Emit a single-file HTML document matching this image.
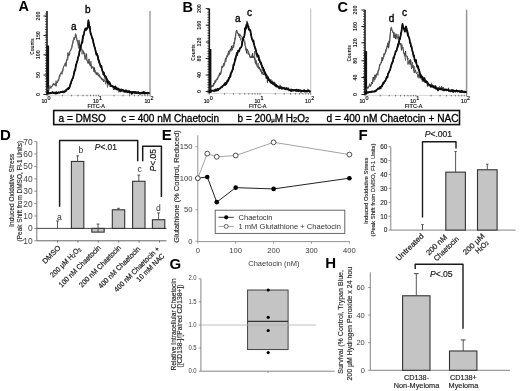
<!DOCTYPE html>
<html><head><meta charset="utf-8"><style>
html,body{margin:0;padding:0;background:#fff;overflow:hidden;width:520px;height:391px;}
svg{display:block;will-change:transform;}
text{font-family:"Liberation Sans", sans-serif;}
</style></head><body>
<svg width="520" height="391" viewBox="0 0 520 391">
<rect width="520" height="391" fill="#fff"/>
<line x1="47.00" y1="11.00" x2="47.00" y2="95.00" stroke="#1a1a1a" stroke-width="1.6"/>
<line x1="45.10" y1="94.50" x2="47.00" y2="94.50" stroke="#333" stroke-width="0.9"/>
<line x1="45.10" y1="91.90" x2="47.00" y2="91.90" stroke="#333" stroke-width="0.9"/>
<line x1="45.10" y1="89.30" x2="47.00" y2="89.30" stroke="#333" stroke-width="0.9"/>
<line x1="45.10" y1="86.70" x2="47.00" y2="86.70" stroke="#333" stroke-width="0.9"/>
<line x1="45.10" y1="84.10" x2="47.00" y2="84.10" stroke="#333" stroke-width="0.9"/>
<line x1="45.10" y1="81.50" x2="47.00" y2="81.50" stroke="#333" stroke-width="0.9"/>
<line x1="45.10" y1="78.90" x2="47.00" y2="78.90" stroke="#333" stroke-width="0.9"/>
<line x1="45.10" y1="76.30" x2="47.00" y2="76.30" stroke="#333" stroke-width="0.9"/>
<line x1="45.10" y1="73.70" x2="47.00" y2="73.70" stroke="#333" stroke-width="0.9"/>
<line x1="45.10" y1="71.10" x2="47.00" y2="71.10" stroke="#333" stroke-width="0.9"/>
<line x1="45.10" y1="68.50" x2="47.00" y2="68.50" stroke="#333" stroke-width="0.9"/>
<line x1="45.10" y1="65.90" x2="47.00" y2="65.90" stroke="#333" stroke-width="0.9"/>
<line x1="45.10" y1="63.30" x2="47.00" y2="63.30" stroke="#333" stroke-width="0.9"/>
<line x1="45.10" y1="60.70" x2="47.00" y2="60.70" stroke="#333" stroke-width="0.9"/>
<line x1="45.10" y1="58.10" x2="47.00" y2="58.10" stroke="#333" stroke-width="0.9"/>
<line x1="45.10" y1="55.50" x2="47.00" y2="55.50" stroke="#333" stroke-width="0.9"/>
<line x1="45.10" y1="52.90" x2="47.00" y2="52.90" stroke="#333" stroke-width="0.9"/>
<line x1="45.10" y1="50.30" x2="47.00" y2="50.30" stroke="#333" stroke-width="0.9"/>
<line x1="45.10" y1="47.70" x2="47.00" y2="47.70" stroke="#333" stroke-width="0.9"/>
<line x1="45.10" y1="45.10" x2="47.00" y2="45.10" stroke="#333" stroke-width="0.9"/>
<line x1="45.10" y1="42.50" x2="47.00" y2="42.50" stroke="#333" stroke-width="0.9"/>
<line x1="45.10" y1="39.90" x2="47.00" y2="39.90" stroke="#333" stroke-width="0.9"/>
<line x1="45.10" y1="37.30" x2="47.00" y2="37.30" stroke="#333" stroke-width="0.9"/>
<line x1="45.10" y1="34.70" x2="47.00" y2="34.70" stroke="#333" stroke-width="0.9"/>
<line x1="45.10" y1="32.10" x2="47.00" y2="32.10" stroke="#333" stroke-width="0.9"/>
<line x1="45.10" y1="29.50" x2="47.00" y2="29.50" stroke="#333" stroke-width="0.9"/>
<line x1="45.10" y1="26.90" x2="47.00" y2="26.90" stroke="#333" stroke-width="0.9"/>
<line x1="45.10" y1="24.30" x2="47.00" y2="24.30" stroke="#333" stroke-width="0.9"/>
<line x1="45.10" y1="21.70" x2="47.00" y2="21.70" stroke="#333" stroke-width="0.9"/>
<line x1="45.10" y1="19.10" x2="47.00" y2="19.10" stroke="#333" stroke-width="0.9"/>
<line x1="45.10" y1="16.50" x2="47.00" y2="16.50" stroke="#333" stroke-width="0.9"/>
<line x1="45.10" y1="13.90" x2="47.00" y2="13.90" stroke="#333" stroke-width="0.9"/>
<line x1="43.40" y1="94.50" x2="47.00" y2="94.50" stroke="#222" stroke-width="1.0"/>
<line x1="43.40" y1="75.00" x2="47.00" y2="75.00" stroke="#222" stroke-width="1.0"/>
<line x1="43.40" y1="54.80" x2="47.00" y2="54.80" stroke="#222" stroke-width="1.0"/>
<line x1="43.40" y1="35.60" x2="47.00" y2="35.60" stroke="#222" stroke-width="1.0"/>
<line x1="43.40" y1="16.00" x2="47.00" y2="16.00" stroke="#222" stroke-width="1.0"/>
<rect x="46.50" y="45.50" width="2.60" height="49.00" fill="#111" stroke="none" stroke-width="1"/>
<line x1="150.00" y1="11.00" x2="150.00" y2="95.00" stroke="#a8a8a8" stroke-width="1.6"/>
<line x1="47.00" y1="95.30" x2="150.00" y2="95.30" stroke="#bbb" stroke-width="0.6"/>
<line x1="47.00" y1="94.80" x2="47.00" y2="96.30" stroke="#555" stroke-width="0.8"/>
<line x1="62.50" y1="94.80" x2="62.50" y2="96.30" stroke="#555" stroke-width="0.8"/>
<line x1="71.57" y1="94.80" x2="71.57" y2="96.30" stroke="#555" stroke-width="0.8"/>
<line x1="78.01" y1="94.80" x2="78.01" y2="96.30" stroke="#555" stroke-width="0.8"/>
<line x1="83.00" y1="94.80" x2="83.00" y2="96.30" stroke="#555" stroke-width="0.8"/>
<line x1="87.07" y1="94.80" x2="87.07" y2="96.30" stroke="#555" stroke-width="0.8"/>
<line x1="90.52" y1="94.80" x2="90.52" y2="96.30" stroke="#555" stroke-width="0.8"/>
<line x1="93.51" y1="94.80" x2="93.51" y2="96.30" stroke="#555" stroke-width="0.8"/>
<line x1="96.14" y1="94.80" x2="96.14" y2="96.30" stroke="#555" stroke-width="0.8"/>
<line x1="98.50" y1="94.80" x2="98.50" y2="96.30" stroke="#555" stroke-width="0.8"/>
<line x1="114.00" y1="94.80" x2="114.00" y2="96.30" stroke="#555" stroke-width="0.8"/>
<line x1="123.07" y1="94.80" x2="123.07" y2="96.30" stroke="#555" stroke-width="0.8"/>
<line x1="129.51" y1="94.80" x2="129.51" y2="96.30" stroke="#555" stroke-width="0.8"/>
<line x1="134.50" y1="94.80" x2="134.50" y2="96.30" stroke="#555" stroke-width="0.8"/>
<line x1="138.57" y1="94.80" x2="138.57" y2="96.30" stroke="#555" stroke-width="0.8"/>
<line x1="142.02" y1="94.80" x2="142.02" y2="96.30" stroke="#555" stroke-width="0.8"/>
<line x1="145.01" y1="94.80" x2="145.01" y2="96.30" stroke="#555" stroke-width="0.8"/>
<line x1="147.64" y1="94.80" x2="147.64" y2="96.30" stroke="#555" stroke-width="0.8"/>
<line x1="150.00" y1="94.80" x2="150.00" y2="96.50" stroke="#555" stroke-width="0.8"/>
<text x="39.90" y="94.50" font-size="5.3" fill="#1a1a1a" text-anchor="middle" transform="rotate(-90 39.90 94.50)" font-weight="bold">0</text>
<text x="39.90" y="75.00" font-size="5.3" fill="#1a1a1a" text-anchor="middle" transform="rotate(-90 39.90 75.00)" font-weight="bold">50</text>
<text x="39.90" y="54.80" font-size="5.3" fill="#1a1a1a" text-anchor="middle" transform="rotate(-90 39.90 54.80)" font-weight="bold">100</text>
<text x="39.90" y="35.60" font-size="5.3" fill="#1a1a1a" text-anchor="middle" transform="rotate(-90 39.90 35.60)" font-weight="bold">150</text>
<text x="39.90" y="16.00" font-size="5.3" fill="#1a1a1a" text-anchor="middle" transform="rotate(-90 39.90 16.00)" font-weight="bold">200</text>
<text x="34.47" y="46.60" font-size="5.2" fill="#222" text-anchor="middle" transform="rotate(-90 34.47 46.60)" font-weight="bold" textLength="16.4" lengthAdjust="spacingAndGlyphs">Counts</text>
<text x="41.40" y="103.40" font-size="6.2" fill="#111" stroke="#111" stroke-width="0.2" textLength="5.8" lengthAdjust="spacingAndGlyphs">10</text>
<text x="49.00" y="100.30" font-size="5.4" fill="#111" stroke="#111" stroke-width="0.2" text-anchor="middle">0</text>
<text x="92.90" y="103.40" font-size="6.2" fill="#111" stroke="#111" stroke-width="0.2" textLength="5.8" lengthAdjust="spacingAndGlyphs">10</text>
<text x="100.50" y="100.30" font-size="5.4" fill="#111" stroke="#111" stroke-width="0.2" text-anchor="middle">1</text>
<text x="144.40" y="103.40" font-size="6.2" fill="#111" stroke="#111" stroke-width="0.2" textLength="5.8" lengthAdjust="spacingAndGlyphs">10</text>
<text x="152.00" y="100.30" font-size="5.4" fill="#111" stroke="#111" stroke-width="0.2" text-anchor="middle">2</text>
<text x="87.50" y="108.00" font-size="4.8" fill="#111" stroke="#111" stroke-width="0.15" textLength="17.5" lengthAdjust="spacingAndGlyphs">FITC-A</text>
<polyline points="47.50,89.84 48.00,88.34 48.50,91.35 49.00,88.79 49.50,87.76 50.00,87.47 50.50,87.92 51.00,86.31 51.50,86.39 52.00,86.37 52.50,85.36 53.00,83.76 53.50,83.32 54.00,85.11 54.50,84.95 55.00,83.45 55.50,83.99 56.00,86.37 56.50,84.21 57.00,81.74 57.50,82.50 58.00,81.32 58.50,79.17 59.00,78.33 59.50,75.11 60.00,74.95 60.50,73.44 61.00,72.61 61.50,73.68 62.00,74.24 62.50,72.42 63.00,68.48 63.50,67.26 64.00,65.99 64.50,65.49 65.00,64.30 65.50,62.84 66.00,66.47 66.50,60.38 67.00,60.10 67.50,56.84 68.00,52.57 68.50,55.36 69.00,54.54 69.50,55.30 70.00,51.45 70.50,50.99 71.00,49.77 71.50,48.82 72.00,47.28 72.50,43.61 73.00,40.58 73.50,39.84 74.00,37.76 74.50,37.05 75.00,37.72 75.50,36.37 76.00,34.67 76.50,37.19 77.00,39.64 77.50,41.33 78.00,43.64 78.50,45.72 79.00,40.14 79.50,45.17 80.00,45.70 80.50,49.28 81.00,46.14 81.50,49.50 82.00,49.37 82.50,50.01 83.00,50.64 83.50,53.25 84.00,52.56 84.50,56.07 85.00,59.53 85.50,58.73 86.00,56.07 86.50,53.69 87.00,59.94 87.50,61.53 88.00,63.45 88.50,62.15 89.00,58.87 89.50,64.21 90.00,65.54 90.50,66.13 91.00,64.48 91.50,68.32 92.00,68.19 92.50,67.74 93.00,66.72 93.50,67.71 94.00,71.79 94.50,67.51 95.00,72.75 95.50,71.97 96.00,72.57 96.50,74.10 97.00,75.12 97.50,72.91 98.00,72.57 98.50,76.20 99.00,75.12 99.50,76.44 100.00,77.66 100.50,76.69 101.00,77.55 101.50,79.25 102.00,78.29 102.50,80.13 103.00,79.04 103.50,81.85 104.00,80.24 104.50,80.99 105.00,80.77 105.50,81.98 106.00,82.38 106.50,80.99 107.00,81.24 107.50,83.55 108.00,82.79 108.50,84.94 109.00,83.98 109.50,83.49 110.00,84.99 110.50,83.48 111.00,85.97 111.50,86.59 112.00,86.11 112.50,86.86 113.00,86.60 113.50,89.96 114.00,87.81 114.50,88.53 115.00,89.12 115.50,89.85 116.00,87.62 116.50,88.51 117.00,89.89 117.50,90.11 118.00,90.60 118.50,90.30 119.00,92.25 119.50,90.88 120.00,90.48 120.50,92.17 121.00,91.32 121.50,89.80 122.00,91.11 122.50,89.74 123.00,91.63 123.50,91.90 124.00,92.28 124.50,91.48 125.00,91.52 125.50,92.74 126.00,92.21 126.50,91.29 127.00,92.37 127.50,90.68 128.00,91.58 128.50,90.52 129.00,92.13 129.50,93.01 130.00,92.08 130.50,91.66 131.00,92.74 131.50,91.27 132.00,92.52 132.50,91.80 133.00,92.84 133.50,91.53 134.00,92.33 134.50,92.76 135.00,93.09 135.50,92.70 136.00,92.48 136.50,92.85 137.00,92.76 137.50,92.70 138.00,92.97 138.50,91.52 139.00,92.90 139.50,93.31 140.00,94.83 140.50,93.70 141.00,92.97 141.50,93.88 142.00,93.60 142.50,92.95 143.00,91.89 143.50,92.79 144.00,93.00 144.50,94.41 145.00,93.98 145.50,94.06 146.00,92.83 146.50,93.31 147.00,92.87 147.50,94.07 148.00,94.26 148.50,92.83 149.00,93.91 149.40,93.60" fill="none" stroke="#2a2a2a" stroke-width="0.85" stroke-linejoin="round"/>
<polyline points="47.50,90.01 48.00,87.46 48.50,89.93 49.00,88.76 49.50,86.01 50.00,85.49 50.50,86.37 51.00,88.58 51.50,87.31 52.00,86.79 52.50,86.12 53.00,83.85 53.50,84.39 54.00,85.36 54.50,84.58 55.00,84.12 55.50,83.96 56.00,80.66 56.50,83.59 57.00,82.71 57.50,81.58 58.00,79.84 58.50,80.77 59.00,80.08 59.50,75.15 60.00,76.55 60.50,74.67 61.00,74.39 61.50,71.67 62.00,70.70 62.50,71.56 63.00,70.57 63.50,67.11 64.00,65.26 64.50,65.23 65.00,63.98 65.50,62.56 66.00,62.42 66.50,60.56 67.00,59.26 67.50,60.38 68.00,58.89 68.50,54.94 69.00,55.29 69.50,51.44 70.00,50.52 70.50,50.54 71.00,48.55 71.50,47.81 72.00,44.83 72.50,44.23 73.00,43.46 73.50,41.39 74.00,37.55 74.50,39.79 75.00,36.85 75.50,33.48 76.00,37.17 76.50,38.96 77.00,41.35 77.50,40.47 78.00,42.90 78.50,48.30 79.00,45.25 79.50,43.39 80.00,47.47 80.50,46.16 81.00,47.78 81.50,45.99 82.00,54.32 82.50,50.36 83.00,50.71 83.50,51.12 84.00,54.34 84.50,53.12 85.00,53.15 85.50,56.88 86.00,57.35 86.50,60.07 87.00,59.94 87.50,62.11 88.00,62.78 88.50,62.38 89.00,63.82 89.50,62.47 90.00,61.50 90.50,65.39 91.00,61.33 91.50,68.31 92.00,66.11 92.50,67.71 93.00,67.29 93.50,69.85 94.00,69.29 94.50,71.94 95.00,70.85 95.50,70.40 96.00,74.33 96.50,72.33 97.00,73.14 97.50,74.60 98.00,74.70 98.50,75.78 99.00,76.04 99.50,74.45 100.00,76.90 100.50,77.32 101.00,78.06 101.50,79.54 102.00,79.33 102.50,79.64 103.00,80.73 103.50,81.16 104.00,81.36 104.50,75.62 105.00,78.34 105.50,84.22 106.00,82.39 106.50,80.36 107.00,83.39 107.50,87.47 108.00,83.25 108.50,81.83 109.00,84.60 109.50,86.31 110.00,86.57 110.50,86.05 111.00,85.96 111.50,85.19 112.00,86.11 112.50,85.57 113.00,87.12 113.50,86.67 114.00,87.97 114.50,89.95 115.00,88.37 115.50,88.70 116.00,88.76 116.50,89.63 117.00,89.19 117.50,89.09 118.00,88.57 118.50,89.05 119.00,90.45 119.50,90.45 120.00,92.00 120.50,90.64 121.00,89.78 121.50,88.60 122.00,91.62 122.50,90.18 123.00,91.49 123.50,90.19 124.00,90.33 124.50,92.88 125.00,91.29 125.50,90.32 126.00,91.90 126.50,91.85 127.00,90.85 127.50,91.82 128.00,92.44 128.50,91.77 129.00,92.33 129.50,94.43 130.00,92.21 130.50,92.55 131.00,93.45 131.50,92.99 132.00,92.89 132.50,92.69 133.00,91.06 133.50,91.48 134.00,92.33 134.50,94.00 135.00,91.43 135.50,92.97 136.00,93.05 136.50,93.85 137.00,92.54 137.50,94.08 138.00,91.16 138.50,92.77 139.00,92.69 139.50,92.65 140.00,93.27 140.50,92.90 141.00,93.16 141.50,93.03 142.00,93.19 142.50,92.85 143.00,92.80 143.50,91.75 144.00,93.39 144.50,91.59 145.00,93.40 145.50,93.97 146.00,93.77 146.50,93.67 147.00,93.78 147.50,93.94 148.00,93.89 148.50,93.63 149.00,93.82 149.40,93.60" fill="none" stroke="#4a4a4a" stroke-width="0.7" stroke-linejoin="round"/>
<polyline points="47.40,93.11 47.90,93.18 48.40,93.46 48.90,92.90 49.40,93.14 49.90,92.88 50.40,93.13 50.90,92.86 51.40,92.72 51.90,92.93 52.40,92.07 52.90,92.32 53.40,92.65 53.90,93.05 54.40,92.69 54.90,92.61 55.40,92.52 55.90,93.63 56.40,92.25 56.90,92.69 57.40,93.29 57.90,92.88 58.40,92.32 58.90,92.23 59.40,92.86 59.90,92.61 60.40,92.22 60.90,92.06 61.40,92.11 61.90,92.02 62.40,92.06 62.90,91.29 63.40,91.83 63.90,92.23 64.40,91.41 64.90,91.58 65.40,90.76 65.90,91.23 66.40,89.78 66.90,89.39 67.40,88.74 67.90,89.04 68.40,87.86 68.90,88.40 69.40,88.07 69.90,86.23 70.40,83.96 70.90,83.19 71.40,80.98 71.90,80.36 72.40,78.87 72.90,78.29 73.40,76.33 73.90,74.21 74.40,71.78 74.90,70.92 75.40,69.33 75.90,64.78 76.40,64.06 76.90,61.51 77.40,60.99 77.90,58.40 78.40,56.07 78.90,56.01 79.40,51.41 79.90,50.29 80.40,45.92 80.90,45.49 81.40,44.27 81.90,42.01 82.40,42.65 82.90,36.09 83.40,35.52 83.90,34.02 84.40,31.55 84.90,29.86 85.40,28.44 85.90,29.12 86.40,28.48 86.90,28.12 87.40,28.51 87.90,26.88 88.40,20.50 88.90,23.20 89.40,27.23 89.90,26.61 90.40,32.66 90.90,34.51 91.40,35.22 91.90,37.38 92.40,38.32 92.90,39.26 93.40,42.69 93.90,43.87 94.40,46.73 94.90,47.87 95.40,50.44 95.90,52.75 96.40,54.66 96.90,53.71 97.40,55.78 97.90,56.08 98.40,59.51 98.90,60.18 99.40,62.47 99.90,63.82 100.40,65.64 100.90,66.57 101.40,65.66 101.90,69.12 102.40,71.12 102.90,71.83 103.40,74.57 103.90,72.65 104.40,75.28 104.90,76.14 105.40,76.08 105.90,76.81 106.40,78.63 106.90,79.36 107.40,81.51 107.90,82.98 108.40,81.68 108.90,81.73 109.40,82.10 109.90,83.18 110.40,84.48 110.90,86.03 111.40,85.79 111.90,85.76 112.40,86.50 112.90,86.28 113.40,86.71 113.90,87.20 114.40,86.96 114.90,88.21 115.40,86.42 115.90,87.35 116.40,87.87 116.90,89.39 117.40,88.52 117.90,88.41 118.40,88.92 118.90,89.64 119.40,90.03 119.90,89.74 120.40,89.59 120.90,90.68 121.40,90.46 121.90,90.05 122.40,89.93 122.90,90.63 123.40,90.38 123.90,91.11 124.40,90.75 124.90,91.44 125.40,90.87 125.90,90.27 126.40,91.08 126.90,91.50 127.40,92.37 127.90,91.23 128.40,91.67 128.90,91.87 129.40,91.09 129.90,92.13 130.40,91.96 130.90,92.11 131.40,92.34 131.90,93.89 132.40,92.01 132.90,92.68 133.40,92.00 133.90,92.23 134.40,92.36 134.90,91.89 135.40,92.75 135.90,92.16 136.40,92.96 136.90,92.90 137.40,92.51 137.90,92.40 138.40,93.14 138.90,92.66 139.40,93.03 139.90,93.09 140.40,92.81 140.90,92.78 141.40,92.85 141.90,92.62 142.40,92.51 142.90,93.48 143.40,92.14 143.90,93.10 144.40,92.38 144.90,93.07 145.40,92.72 145.90,92.87 146.40,93.10 146.90,92.85 147.40,92.71 147.90,93.03 148.40,93.19 148.90,92.76 149.40,92.90" fill="none" stroke="#000" stroke-width="1.7" stroke-linejoin="round"/>
<polyline points="47.40,93.05 47.90,93.29 48.40,93.29 48.90,92.76 49.40,93.20 49.90,93.77 50.40,93.25 50.90,92.55 51.40,92.85 51.90,92.92 52.40,93.07 52.90,92.73 53.40,93.36 53.90,92.94 54.40,92.69 54.90,93.64 55.40,93.50 55.90,92.95 56.40,92.24 56.90,92.80 57.40,92.62 57.90,92.53 58.40,92.27 58.90,92.44 59.40,92.54 59.90,92.71 60.40,91.80 60.90,91.50 61.40,92.13 61.90,92.35 62.40,91.28 62.90,92.03 63.40,91.74 63.90,92.80 64.40,91.53 64.90,90.97 65.40,90.77 65.90,90.18 66.40,89.68 66.90,89.56 67.40,89.68 67.90,88.74 68.40,89.41 68.90,88.81 69.40,87.41 69.90,85.92 70.40,84.17 70.90,84.09 71.40,81.09 71.90,80.45 72.40,78.62 72.90,78.25 73.40,76.24 73.90,73.38 74.40,70.11 74.90,69.98 75.40,67.77 75.90,66.68 76.40,65.18 76.90,62.48 77.40,61.43 77.90,58.45 78.40,56.87 78.90,54.34 79.40,52.68 79.90,50.88 80.40,48.11 80.90,46.00 81.40,44.40 81.90,42.86 82.40,38.94 82.90,39.04 83.40,36.25 83.90,35.24 84.40,31.87 84.90,29.28 85.40,30.32 85.90,28.89 86.40,30.27 86.90,29.18 87.40,27.96 87.90,23.67 88.40,19.76 88.90,23.58 89.40,27.18 89.90,29.65 90.40,31.83 90.90,32.94 91.40,35.08 91.90,38.12 92.40,39.66 92.90,40.51 93.40,43.53 93.90,45.62 94.40,45.28 94.90,48.32 95.40,48.55 95.90,52.09 96.40,52.02 96.90,53.97 97.40,55.87 97.90,59.89 98.40,58.57 98.90,62.94 99.40,61.66 99.90,64.94 100.40,67.11 100.90,66.25 101.40,68.19 101.90,69.02 102.40,70.76 102.90,71.37 103.40,72.75 103.90,73.44 104.40,74.93 104.90,76.48 105.40,76.92 105.90,76.60 106.40,79.81 106.90,78.11 107.40,80.21 107.90,80.17 108.40,80.98 108.90,82.26 109.40,83.37 109.90,83.27 110.40,85.20 110.90,85.41 111.40,85.45 111.90,85.73 112.40,86.73 112.90,86.17 113.40,86.89 113.90,86.44 114.40,87.12 114.90,87.51 115.40,87.20 115.90,88.15 116.40,88.10 116.90,88.37 117.40,88.94 117.90,89.10 118.40,88.77 118.90,88.40 119.40,89.85 119.90,89.48 120.40,91.26 120.90,90.00 121.40,89.36 121.90,90.26 122.40,90.50 122.90,90.53 123.40,89.99 123.90,90.77 124.40,90.35 124.90,91.19 125.40,90.51 125.90,90.50 126.40,91.03 126.90,91.37 127.40,91.42 127.90,91.59 128.40,92.15 128.90,91.86 129.40,92.12 129.90,92.30 130.40,91.88 130.90,93.15 131.40,91.98 131.90,92.48 132.40,92.63 132.90,91.82 133.40,92.87 133.90,92.17 134.40,92.81 134.90,92.66 135.40,92.62 135.90,91.79 136.40,92.63 136.90,92.55 137.40,92.56 137.90,92.70 138.40,92.56 138.90,92.41 139.40,92.46 139.90,92.68 140.40,93.00 140.90,92.71 141.40,92.66 141.90,92.82 142.40,92.89 142.90,92.99 143.40,93.05 143.90,91.65 144.40,92.55 144.90,92.86 145.40,92.56 145.90,92.98 146.40,92.97 146.90,92.81 147.40,92.51 147.90,92.84 148.40,93.09 148.90,93.37 149.40,92.90" fill="none" stroke="#111" stroke-width="1.1" stroke-linejoin="round"/>
<text x="73.80" y="29.60" font-size="10" fill="#000" stroke="#000" stroke-width="0.35" text-anchor="middle">a</text>
<text x="87.80" y="13.00" font-size="10" fill="#000" stroke="#000" stroke-width="0.35" text-anchor="middle">b</text>
<text x="18.60" y="11.30" font-size="14.5" fill="#000" font-weight="bold">A</text>
<line x1="209.30" y1="8.50" x2="209.30" y2="93.30" stroke="#1a1a1a" stroke-width="1.6"/>
<line x1="207.40" y1="92.80" x2="209.30" y2="92.80" stroke="#333" stroke-width="0.9"/>
<line x1="207.40" y1="90.20" x2="209.30" y2="90.20" stroke="#333" stroke-width="0.9"/>
<line x1="207.40" y1="87.60" x2="209.30" y2="87.60" stroke="#333" stroke-width="0.9"/>
<line x1="207.40" y1="85.00" x2="209.30" y2="85.00" stroke="#333" stroke-width="0.9"/>
<line x1="207.40" y1="82.40" x2="209.30" y2="82.40" stroke="#333" stroke-width="0.9"/>
<line x1="207.40" y1="79.80" x2="209.30" y2="79.80" stroke="#333" stroke-width="0.9"/>
<line x1="207.40" y1="77.20" x2="209.30" y2="77.20" stroke="#333" stroke-width="0.9"/>
<line x1="207.40" y1="74.60" x2="209.30" y2="74.60" stroke="#333" stroke-width="0.9"/>
<line x1="207.40" y1="72.00" x2="209.30" y2="72.00" stroke="#333" stroke-width="0.9"/>
<line x1="207.40" y1="69.40" x2="209.30" y2="69.40" stroke="#333" stroke-width="0.9"/>
<line x1="207.40" y1="66.80" x2="209.30" y2="66.80" stroke="#333" stroke-width="0.9"/>
<line x1="207.40" y1="64.20" x2="209.30" y2="64.20" stroke="#333" stroke-width="0.9"/>
<line x1="207.40" y1="61.60" x2="209.30" y2="61.60" stroke="#333" stroke-width="0.9"/>
<line x1="207.40" y1="59.00" x2="209.30" y2="59.00" stroke="#333" stroke-width="0.9"/>
<line x1="207.40" y1="56.40" x2="209.30" y2="56.40" stroke="#333" stroke-width="0.9"/>
<line x1="207.40" y1="53.80" x2="209.30" y2="53.80" stroke="#333" stroke-width="0.9"/>
<line x1="207.40" y1="51.20" x2="209.30" y2="51.20" stroke="#333" stroke-width="0.9"/>
<line x1="207.40" y1="48.60" x2="209.30" y2="48.60" stroke="#333" stroke-width="0.9"/>
<line x1="207.40" y1="46.00" x2="209.30" y2="46.00" stroke="#333" stroke-width="0.9"/>
<line x1="207.40" y1="43.40" x2="209.30" y2="43.40" stroke="#333" stroke-width="0.9"/>
<line x1="207.40" y1="40.80" x2="209.30" y2="40.80" stroke="#333" stroke-width="0.9"/>
<line x1="207.40" y1="38.20" x2="209.30" y2="38.20" stroke="#333" stroke-width="0.9"/>
<line x1="207.40" y1="35.60" x2="209.30" y2="35.60" stroke="#333" stroke-width="0.9"/>
<line x1="207.40" y1="33.00" x2="209.30" y2="33.00" stroke="#333" stroke-width="0.9"/>
<line x1="207.40" y1="30.40" x2="209.30" y2="30.40" stroke="#333" stroke-width="0.9"/>
<line x1="207.40" y1="27.80" x2="209.30" y2="27.80" stroke="#333" stroke-width="0.9"/>
<line x1="207.40" y1="25.20" x2="209.30" y2="25.20" stroke="#333" stroke-width="0.9"/>
<line x1="207.40" y1="22.60" x2="209.30" y2="22.60" stroke="#333" stroke-width="0.9"/>
<line x1="207.40" y1="20.00" x2="209.30" y2="20.00" stroke="#333" stroke-width="0.9"/>
<line x1="207.40" y1="17.40" x2="209.30" y2="17.40" stroke="#333" stroke-width="0.9"/>
<line x1="207.40" y1="14.80" x2="209.30" y2="14.80" stroke="#333" stroke-width="0.9"/>
<line x1="207.40" y1="12.20" x2="209.30" y2="12.20" stroke="#333" stroke-width="0.9"/>
<line x1="207.40" y1="9.60" x2="209.30" y2="9.60" stroke="#333" stroke-width="0.9"/>
<line x1="205.70" y1="91.50" x2="209.30" y2="91.50" stroke="#222" stroke-width="1.0"/>
<line x1="205.70" y1="75.00" x2="209.30" y2="75.00" stroke="#222" stroke-width="1.0"/>
<line x1="205.70" y1="58.50" x2="209.30" y2="58.50" stroke="#222" stroke-width="1.0"/>
<line x1="205.70" y1="42.00" x2="209.30" y2="42.00" stroke="#222" stroke-width="1.0"/>
<line x1="205.70" y1="25.20" x2="209.30" y2="25.20" stroke="#222" stroke-width="1.0"/>
<line x1="205.70" y1="8.60" x2="209.30" y2="8.60" stroke="#222" stroke-width="1.0"/>
<rect x="208.80" y="49.00" width="2.60" height="43.80" fill="#111" stroke="none" stroke-width="1"/>
<line x1="310.70" y1="8.50" x2="310.70" y2="93.30" stroke="#c8c8c8" stroke-width="1.2"/>
<line x1="209.30" y1="93.60" x2="310.70" y2="93.60" stroke="#bbb" stroke-width="0.6"/>
<line x1="209.30" y1="93.10" x2="209.30" y2="94.60" stroke="#555" stroke-width="0.8"/>
<line x1="224.56" y1="93.10" x2="224.56" y2="94.60" stroke="#555" stroke-width="0.8"/>
<line x1="233.49" y1="93.10" x2="233.49" y2="94.60" stroke="#555" stroke-width="0.8"/>
<line x1="239.82" y1="93.10" x2="239.82" y2="94.60" stroke="#555" stroke-width="0.8"/>
<line x1="244.74" y1="93.10" x2="244.74" y2="94.60" stroke="#555" stroke-width="0.8"/>
<line x1="248.75" y1="93.10" x2="248.75" y2="94.60" stroke="#555" stroke-width="0.8"/>
<line x1="252.15" y1="93.10" x2="252.15" y2="94.60" stroke="#555" stroke-width="0.8"/>
<line x1="255.09" y1="93.10" x2="255.09" y2="94.60" stroke="#555" stroke-width="0.8"/>
<line x1="257.68" y1="93.10" x2="257.68" y2="94.60" stroke="#555" stroke-width="0.8"/>
<line x1="260.00" y1="93.10" x2="260.00" y2="94.60" stroke="#555" stroke-width="0.8"/>
<line x1="275.26" y1="93.10" x2="275.26" y2="94.60" stroke="#555" stroke-width="0.8"/>
<line x1="284.19" y1="93.10" x2="284.19" y2="94.60" stroke="#555" stroke-width="0.8"/>
<line x1="290.52" y1="93.10" x2="290.52" y2="94.60" stroke="#555" stroke-width="0.8"/>
<line x1="295.44" y1="93.10" x2="295.44" y2="94.60" stroke="#555" stroke-width="0.8"/>
<line x1="299.45" y1="93.10" x2="299.45" y2="94.60" stroke="#555" stroke-width="0.8"/>
<line x1="302.85" y1="93.10" x2="302.85" y2="94.60" stroke="#555" stroke-width="0.8"/>
<line x1="305.79" y1="93.10" x2="305.79" y2="94.60" stroke="#555" stroke-width="0.8"/>
<line x1="308.38" y1="93.10" x2="308.38" y2="94.60" stroke="#555" stroke-width="0.8"/>
<line x1="310.70" y1="93.10" x2="310.70" y2="94.80" stroke="#555" stroke-width="0.8"/>
<text x="201.10" y="91.50" font-size="5.3" fill="#1a1a1a" text-anchor="middle" transform="rotate(-90 201.10 91.50)" font-weight="bold">0</text>
<text x="201.10" y="75.00" font-size="5.3" fill="#1a1a1a" text-anchor="middle" transform="rotate(-90 201.10 75.00)" font-weight="bold">40</text>
<text x="201.10" y="58.50" font-size="5.3" fill="#1a1a1a" text-anchor="middle" transform="rotate(-90 201.10 58.50)" font-weight="bold">80</text>
<text x="201.10" y="42.00" font-size="5.3" fill="#1a1a1a" text-anchor="middle" transform="rotate(-90 201.10 42.00)" font-weight="bold">120</text>
<text x="201.10" y="25.20" font-size="5.3" fill="#1a1a1a" text-anchor="middle" transform="rotate(-90 201.10 25.20)" font-weight="bold">160</text>
<text x="201.10" y="8.60" font-size="5.3" fill="#1a1a1a" text-anchor="middle" transform="rotate(-90 201.10 8.60)" font-weight="bold">200</text>
<text x="194.97" y="52.50" font-size="5.2" fill="#222" text-anchor="middle" transform="rotate(-90 194.97 52.50)" font-weight="bold" textLength="16.4" lengthAdjust="spacingAndGlyphs">Counts</text>
<text x="203.70" y="103.40" font-size="6.2" fill="#111" stroke="#111" stroke-width="0.2" textLength="5.8" lengthAdjust="spacingAndGlyphs">10</text>
<text x="211.30" y="100.30" font-size="5.4" fill="#111" stroke="#111" stroke-width="0.2" text-anchor="middle">0</text>
<text x="254.40" y="103.40" font-size="6.2" fill="#111" stroke="#111" stroke-width="0.2" textLength="5.8" lengthAdjust="spacingAndGlyphs">10</text>
<text x="262.00" y="100.30" font-size="5.4" fill="#111" stroke="#111" stroke-width="0.2" text-anchor="middle">1</text>
<text x="305.10" y="103.40" font-size="6.2" fill="#111" stroke="#111" stroke-width="0.2" textLength="5.8" lengthAdjust="spacingAndGlyphs">10</text>
<text x="312.70" y="100.30" font-size="5.4" fill="#111" stroke="#111" stroke-width="0.2" text-anchor="middle">2</text>
<text x="249.00" y="108.00" font-size="4.8" fill="#111" stroke="#111" stroke-width="0.15" textLength="17.5" lengthAdjust="spacingAndGlyphs">FITC-A</text>
<polyline points="209.50,88.71 210.00,88.25 210.50,85.66 211.00,86.75 211.50,86.61 212.00,85.53 212.50,85.03 213.00,86.72 213.50,84.97 214.00,83.06 214.50,84.29 215.00,80.58 215.50,81.75 216.00,79.86 216.50,79.10 217.00,79.03 217.50,78.93 218.00,76.84 218.50,77.16 219.00,76.24 219.50,73.34 220.00,74.92 220.50,74.64 221.00,72.25 221.50,68.42 222.00,65.85 222.50,67.75 223.00,66.82 223.50,65.57 224.00,63.79 224.50,64.33 225.00,61.34 225.50,59.66 226.00,58.17 226.50,58.53 227.00,57.04 227.50,55.70 228.00,55.57 228.50,51.46 229.00,51.31 229.50,51.86 230.00,50.03 230.50,48.75 231.00,50.20 231.50,45.85 232.00,49.99 232.50,47.31 233.00,47.87 233.50,46.97 234.00,42.24 234.50,43.82 235.00,39.10 235.50,34.89 236.00,32.74 236.50,30.52 237.00,31.64 237.50,33.21 238.00,33.22 238.50,35.69 239.00,33.71 239.50,35.31 240.00,35.29 240.50,35.56 241.00,35.55 241.50,36.31 242.00,36.87 242.50,39.28 243.00,38.31 243.50,40.59 244.00,41.56 244.50,41.89 245.00,45.52 245.50,46.30 246.00,48.13 246.50,53.26 247.00,51.16 247.50,49.25 248.00,51.26 248.50,51.40 249.00,54.62 249.50,54.79 250.00,57.04 250.50,57.61 251.00,57.73 251.50,56.08 252.00,57.99 252.50,53.30 253.00,57.74 253.50,56.51 254.00,56.82 254.50,59.39 255.00,58.48 255.50,62.56 256.00,61.56 256.50,63.72 257.00,66.00 257.50,67.29 258.00,67.29 258.50,66.20 259.00,69.16 259.50,67.37 260.00,69.00 260.50,70.41 261.00,71.04 261.50,71.51 262.00,74.35 262.50,72.01 263.00,73.97 263.50,74.79 264.00,73.14 264.50,72.69 265.00,74.82 265.50,76.11 266.00,78.45 266.50,76.47 267.00,77.20 267.50,82.82 268.00,77.34 268.50,80.75 269.00,78.89 269.50,78.92 270.00,80.29 270.50,80.03 271.00,82.09 271.50,83.25 272.00,80.96 272.50,82.72 273.00,82.44 273.50,81.88 274.00,84.19 274.50,85.04 275.00,82.93 275.50,87.09 276.00,84.08 276.50,86.80 277.00,85.54 277.50,85.79 278.00,87.14 278.50,86.89 279.00,87.52 279.50,88.90 280.00,84.75 280.50,85.52 281.00,87.43 281.50,86.91 282.00,87.39 282.50,88.55 283.00,87.84 283.50,87.47 284.00,89.05 284.50,87.62 285.00,88.51 285.50,88.08 286.00,88.03 286.50,87.11 287.00,89.56 287.50,89.59 288.00,87.70 288.50,88.27 289.00,88.98 289.50,89.85 290.00,90.17 290.50,89.56 291.00,91.16 291.50,88.97 292.00,89.29 292.50,90.19 293.00,90.75 293.50,89.82 294.00,91.31 294.50,90.31 295.00,90.67 295.50,90.81 296.00,91.53 296.50,89.62 297.00,89.34 297.50,89.99 298.00,90.35 298.50,89.04 299.00,90.76 299.50,90.85 300.00,91.29 300.50,89.76 301.00,90.92 301.50,90.87 302.00,91.32 302.50,90.65 303.00,91.43 303.50,90.32 304.00,89.80 304.50,89.48 305.00,91.57 305.50,90.75 306.00,91.04 306.50,91.94 307.00,91.67 307.50,91.96 308.00,89.88 308.50,91.30 309.00,90.94 309.50,92.39 310.00,91.90 310.50,91.50" fill="none" stroke="#2a2a2a" stroke-width="0.85" stroke-linejoin="round"/>
<polyline points="209.50,90.46 210.00,89.32 210.50,87.66 211.00,87.85 211.50,87.59 212.00,85.02 212.50,86.45 213.00,84.97 213.50,83.18 214.00,84.16 214.50,83.38 215.00,81.51 215.50,82.74 216.00,81.72 216.50,79.75 217.00,78.66 217.50,80.14 218.00,77.78 218.50,75.19 219.00,74.70 219.50,75.66 220.00,72.43 220.50,73.92 221.00,72.68 221.50,71.25 222.00,67.48 222.50,67.32 223.00,65.85 223.50,63.14 224.00,66.30 224.50,64.39 225.00,61.10 225.50,57.80 226.00,61.67 226.50,55.62 227.00,56.79 227.50,53.68 228.00,54.73 228.50,55.28 229.00,50.82 229.50,54.45 230.00,50.10 230.50,51.19 231.00,51.38 231.50,49.42 232.00,50.43 232.50,46.58 233.00,45.04 233.50,48.11 234.00,45.31 234.50,41.93 235.00,37.80 235.50,39.22 236.00,33.26 236.50,30.08 237.00,30.06 237.50,32.78 238.00,32.50 238.50,33.95 239.00,34.99 239.50,38.02 240.00,34.04 240.50,40.39 241.00,38.37 241.50,39.08 242.00,38.78 242.50,39.44 243.00,39.72 243.50,39.01 244.00,40.19 244.50,39.74 245.00,41.49 245.50,50.19 246.00,48.38 246.50,49.91 247.00,52.01 247.50,52.37 248.00,54.35 248.50,52.73 249.00,54.99 249.50,53.95 250.00,57.38 250.50,56.27 251.00,56.86 251.50,57.60 252.00,54.81 252.50,55.36 253.00,57.32 253.50,56.95 254.00,57.99 254.50,51.24 255.00,61.55 255.50,64.21 256.00,59.89 256.50,61.99 257.00,64.73 257.50,66.38 258.00,62.92 258.50,64.70 259.00,67.82 259.50,68.98 260.00,69.28 260.50,71.66 261.00,68.75 261.50,72.63 262.00,70.09 262.50,69.55 263.00,71.60 263.50,73.15 264.00,72.73 264.50,74.57 265.00,73.58 265.50,73.43 266.00,75.62 266.50,76.32 267.00,77.97 267.50,78.77 268.00,80.43 268.50,78.93 269.00,79.18 269.50,80.19 270.00,81.42 270.50,80.61 271.00,79.22 271.50,80.86 272.00,80.51 272.50,80.66 273.00,82.58 273.50,83.98 274.00,83.16 274.50,81.77 275.00,83.58 275.50,85.13 276.00,85.29 276.50,85.46 277.00,85.69 277.50,85.65 278.00,86.42 278.50,88.25 279.00,89.05 279.50,86.77 280.00,86.33 280.50,87.25 281.00,86.95 281.50,89.60 282.00,87.22 282.50,87.81 283.00,87.56 283.50,88.00 284.00,88.58 284.50,86.94 285.00,88.32 285.50,89.45 286.00,89.91 286.50,89.34 287.00,88.40 287.50,89.27 288.00,87.48 288.50,89.40 289.00,91.46 289.50,90.70 290.00,89.83 290.50,90.68 291.00,89.89 291.50,89.99 292.00,90.40 292.50,90.54 293.00,89.39 293.50,90.67 294.00,90.08 294.50,90.36 295.00,90.74 295.50,89.76 296.00,89.75 296.50,91.97 297.00,91.11 297.50,90.24 298.00,90.38 298.50,90.76 299.00,90.46 299.50,90.41 300.00,90.55 300.50,90.76 301.00,93.22 301.50,90.00 302.00,90.75 302.50,90.67 303.00,90.96 303.50,91.49 304.00,90.88 304.50,91.00 305.00,92.70 305.50,90.31 306.00,91.60 306.50,91.60 307.00,91.77 307.50,89.06 308.00,88.94 308.50,90.89 309.00,91.76 309.50,91.16 310.00,90.31 310.50,91.50" fill="none" stroke="#4a4a4a" stroke-width="0.7" stroke-linejoin="round"/>
<polyline points="209.50,91.76 210.00,91.89 210.50,90.44 211.00,90.95 211.50,90.51 212.00,90.49 212.50,90.62 213.00,90.65 213.50,90.66 214.00,91.26 214.50,90.23 215.00,90.29 215.50,89.51 216.00,90.95 216.50,89.99 217.00,89.72 217.50,88.76 218.00,90.51 218.50,89.20 219.00,88.95 219.50,88.76 220.00,88.60 220.50,88.06 221.00,87.48 221.50,86.75 222.00,86.68 222.50,86.11 223.00,85.75 223.50,85.38 224.00,84.46 224.50,84.87 225.00,83.15 225.50,82.86 226.00,84.10 226.50,83.48 227.00,81.33 227.50,80.41 228.00,81.28 228.50,79.92 229.00,78.91 229.50,77.38 230.00,77.20 230.50,76.21 231.00,72.98 231.50,71.74 232.00,71.71 232.50,69.68 233.00,69.33 233.50,64.71 234.00,65.17 234.50,62.45 235.00,60.85 235.50,59.18 236.00,56.53 236.50,55.59 237.00,55.23 237.50,53.21 238.00,50.94 238.50,51.42 239.00,51.36 239.50,49.94 240.00,48.22 240.50,47.68 241.00,47.66 241.50,46.54 242.00,44.98 242.50,40.62 243.00,39.33 243.50,37.30 244.00,37.12 244.50,35.44 245.00,28.07 245.50,29.54 246.00,26.66 246.50,24.56 247.00,25.96 247.50,23.54 248.00,26.53 248.50,26.57 249.00,29.88 249.50,29.14 250.00,29.90 250.50,30.88 251.00,34.75 251.50,37.38 252.00,39.08 252.50,40.20 253.00,41.28 253.50,40.52 254.00,43.82 254.50,46.44 255.00,47.67 255.50,48.61 256.00,50.90 256.50,54.47 257.00,53.53 257.50,55.79 258.00,56.50 258.50,55.51 259.00,60.24 259.50,59.38 260.00,61.94 260.50,62.81 261.00,62.32 261.50,64.77 262.00,65.95 262.50,67.18 263.00,67.71 263.50,69.89 264.00,69.43 264.50,71.57 265.00,72.93 265.50,73.27 266.00,75.06 266.50,75.08 267.00,76.49 267.50,77.63 268.00,77.09 268.50,80.07 269.00,80.06 269.50,80.38 270.00,80.90 270.50,82.55 271.00,81.90 271.50,82.85 272.00,82.60 272.50,83.41 273.00,83.58 273.50,83.98 274.00,84.48 274.50,84.91 275.00,85.38 275.50,85.58 276.00,85.10 276.50,85.38 277.00,86.79 277.50,86.43 278.00,86.49 278.50,86.65 279.00,87.05 279.50,88.16 280.00,87.73 280.50,87.45 281.00,87.62 281.50,87.49 282.00,87.48 282.50,88.61 283.00,88.58 283.50,88.23 284.00,88.15 284.50,88.62 285.00,88.55 285.50,88.91 286.00,89.27 286.50,89.01 287.00,89.28 287.50,89.28 288.00,89.22 288.50,89.71 289.00,89.47 289.50,90.05 290.00,89.91 290.50,89.72 291.00,91.08 291.50,89.75 292.00,90.07 292.50,90.56 293.00,90.26 293.50,90.40 294.00,90.00 294.50,89.98 295.00,90.46 295.50,90.13 296.00,90.73 296.50,89.58 297.00,89.96 297.50,90.84 298.00,90.56 298.50,90.04 299.00,90.75 299.50,90.87 300.00,90.38 300.50,90.24 301.00,90.95 301.50,90.94 302.00,90.77 302.50,91.07 303.00,91.00 303.50,90.42 304.00,91.29 304.50,90.96 305.00,91.27 305.50,90.97 306.00,91.20 306.50,91.46 307.00,90.95 307.50,91.39 308.00,91.08 308.50,90.35 309.00,90.92 309.50,91.27 310.00,91.63 310.50,91.50" fill="none" stroke="#000" stroke-width="1.7" stroke-linejoin="round"/>
<polyline points="209.50,91.38 210.00,90.88 210.50,91.51 211.00,91.85 211.50,91.07 212.00,90.94 212.50,90.65 213.00,90.57 213.50,90.54 214.00,90.48 214.50,90.28 215.00,89.68 215.50,89.82 216.00,89.40 216.50,89.71 217.00,89.55 217.50,89.27 218.00,88.90 218.50,89.25 219.00,88.88 219.50,88.86 220.00,87.78 220.50,87.99 221.00,87.33 221.50,87.40 222.00,87.66 222.50,86.71 223.00,85.90 223.50,85.20 224.00,84.61 224.50,84.85 225.00,85.42 225.50,85.13 226.00,82.78 226.50,82.93 227.00,82.90 227.50,81.67 228.00,80.38 228.50,77.66 229.00,78.05 229.50,77.54 230.00,75.17 230.50,73.22 231.00,73.74 231.50,72.92 232.00,71.03 232.50,69.29 233.00,67.24 233.50,64.35 234.00,64.25 234.50,61.69 235.00,58.16 235.50,58.31 236.00,56.63 236.50,52.53 237.00,55.29 237.50,51.26 238.00,52.12 238.50,50.83 239.00,50.28 239.50,48.61 240.00,48.47 240.50,47.39 241.00,47.28 241.50,46.55 242.00,41.37 242.50,42.30 243.00,39.12 243.50,38.16 244.00,37.74 244.50,34.56 245.00,32.12 245.50,29.30 246.00,27.45 246.50,28.52 247.00,21.24 247.50,23.72 248.00,27.15 248.50,29.26 249.00,28.59 249.50,29.73 250.00,30.31 250.50,32.37 251.00,34.50 251.50,36.00 252.00,38.51 252.50,39.88 253.00,40.41 253.50,43.98 254.00,43.80 254.50,45.07 255.00,48.75 255.50,49.68 256.00,50.14 256.50,52.25 257.00,57.22 257.50,55.29 258.00,55.29 258.50,57.94 259.00,57.38 259.50,60.67 260.00,61.11 260.50,62.77 261.00,64.96 261.50,63.54 262.00,67.89 262.50,66.86 263.00,67.23 263.50,70.93 264.00,71.79 264.50,71.46 265.00,74.31 265.50,75.28 266.00,74.46 266.50,75.51 267.00,78.48 267.50,77.94 268.00,77.64 268.50,78.18 269.00,79.86 269.50,79.95 270.00,80.73 270.50,81.71 271.00,82.49 271.50,82.97 272.00,82.07 272.50,82.87 273.00,84.38 273.50,84.60 274.00,82.60 274.50,84.58 275.00,85.42 275.50,84.71 276.00,84.53 276.50,85.77 277.00,86.03 277.50,86.15 278.00,87.05 278.50,86.87 279.00,87.39 279.50,88.72 280.00,87.11 280.50,88.21 281.00,88.55 281.50,87.76 282.00,87.15 282.50,88.31 283.00,88.21 283.50,88.43 284.00,88.29 284.50,88.86 285.00,88.77 285.50,88.70 286.00,89.48 286.50,88.29 287.00,89.63 287.50,89.20 288.00,89.20 288.50,89.51 289.00,89.50 289.50,90.12 290.00,89.52 290.50,89.42 291.00,90.00 291.50,91.21 292.00,90.36 292.50,89.87 293.00,90.55 293.50,89.82 294.00,90.33 294.50,90.18 295.00,90.07 295.50,90.22 296.00,90.42 296.50,90.13 297.00,90.46 297.50,90.72 298.00,90.59 298.50,91.40 299.00,90.35 299.50,90.39 300.00,90.62 300.50,90.70 301.00,90.64 301.50,90.34 302.00,91.33 302.50,91.15 303.00,91.01 303.50,91.00 304.00,91.19 304.50,91.54 305.00,90.53 305.50,91.01 306.00,90.80 306.50,90.98 307.00,91.27 307.50,90.74 308.00,91.13 308.50,91.18 309.00,91.39 309.50,91.61 310.00,91.11 310.50,91.50" fill="none" stroke="#111" stroke-width="1.1" stroke-linejoin="round"/>
<text x="237.90" y="22.40" font-size="10" fill="#000" stroke="#000" stroke-width="0.35" text-anchor="middle">a</text>
<text x="249.40" y="15.80" font-size="10" fill="#000" stroke="#000" stroke-width="0.35" text-anchor="middle">c</text>
<text x="182.40" y="11.50" font-size="14.5" fill="#000" font-weight="bold">B</text>
<line x1="365.00" y1="9.70" x2="365.00" y2="95.10" stroke="#1a1a1a" stroke-width="1.6"/>
<line x1="363.10" y1="94.60" x2="365.00" y2="94.60" stroke="#333" stroke-width="0.9"/>
<line x1="363.10" y1="92.00" x2="365.00" y2="92.00" stroke="#333" stroke-width="0.9"/>
<line x1="363.10" y1="89.40" x2="365.00" y2="89.40" stroke="#333" stroke-width="0.9"/>
<line x1="363.10" y1="86.80" x2="365.00" y2="86.80" stroke="#333" stroke-width="0.9"/>
<line x1="363.10" y1="84.20" x2="365.00" y2="84.20" stroke="#333" stroke-width="0.9"/>
<line x1="363.10" y1="81.60" x2="365.00" y2="81.60" stroke="#333" stroke-width="0.9"/>
<line x1="363.10" y1="79.00" x2="365.00" y2="79.00" stroke="#333" stroke-width="0.9"/>
<line x1="363.10" y1="76.40" x2="365.00" y2="76.40" stroke="#333" stroke-width="0.9"/>
<line x1="363.10" y1="73.80" x2="365.00" y2="73.80" stroke="#333" stroke-width="0.9"/>
<line x1="363.10" y1="71.20" x2="365.00" y2="71.20" stroke="#333" stroke-width="0.9"/>
<line x1="363.10" y1="68.60" x2="365.00" y2="68.60" stroke="#333" stroke-width="0.9"/>
<line x1="363.10" y1="66.00" x2="365.00" y2="66.00" stroke="#333" stroke-width="0.9"/>
<line x1="363.10" y1="63.40" x2="365.00" y2="63.40" stroke="#333" stroke-width="0.9"/>
<line x1="363.10" y1="60.80" x2="365.00" y2="60.80" stroke="#333" stroke-width="0.9"/>
<line x1="363.10" y1="58.20" x2="365.00" y2="58.20" stroke="#333" stroke-width="0.9"/>
<line x1="363.10" y1="55.60" x2="365.00" y2="55.60" stroke="#333" stroke-width="0.9"/>
<line x1="363.10" y1="53.00" x2="365.00" y2="53.00" stroke="#333" stroke-width="0.9"/>
<line x1="363.10" y1="50.40" x2="365.00" y2="50.40" stroke="#333" stroke-width="0.9"/>
<line x1="363.10" y1="47.80" x2="365.00" y2="47.80" stroke="#333" stroke-width="0.9"/>
<line x1="363.10" y1="45.20" x2="365.00" y2="45.20" stroke="#333" stroke-width="0.9"/>
<line x1="363.10" y1="42.60" x2="365.00" y2="42.60" stroke="#333" stroke-width="0.9"/>
<line x1="363.10" y1="40.00" x2="365.00" y2="40.00" stroke="#333" stroke-width="0.9"/>
<line x1="363.10" y1="37.40" x2="365.00" y2="37.40" stroke="#333" stroke-width="0.9"/>
<line x1="363.10" y1="34.80" x2="365.00" y2="34.80" stroke="#333" stroke-width="0.9"/>
<line x1="363.10" y1="32.20" x2="365.00" y2="32.20" stroke="#333" stroke-width="0.9"/>
<line x1="363.10" y1="29.60" x2="365.00" y2="29.60" stroke="#333" stroke-width="0.9"/>
<line x1="363.10" y1="27.00" x2="365.00" y2="27.00" stroke="#333" stroke-width="0.9"/>
<line x1="363.10" y1="24.40" x2="365.00" y2="24.40" stroke="#333" stroke-width="0.9"/>
<line x1="363.10" y1="21.80" x2="365.00" y2="21.80" stroke="#333" stroke-width="0.9"/>
<line x1="363.10" y1="19.20" x2="365.00" y2="19.20" stroke="#333" stroke-width="0.9"/>
<line x1="363.10" y1="16.60" x2="365.00" y2="16.60" stroke="#333" stroke-width="0.9"/>
<line x1="363.10" y1="14.00" x2="365.00" y2="14.00" stroke="#333" stroke-width="0.9"/>
<line x1="363.10" y1="11.40" x2="365.00" y2="11.40" stroke="#333" stroke-width="0.9"/>
<line x1="361.40" y1="94.50" x2="365.00" y2="94.50" stroke="#222" stroke-width="1.0"/>
<line x1="361.40" y1="77.50" x2="365.00" y2="77.50" stroke="#222" stroke-width="1.0"/>
<line x1="361.40" y1="60.80" x2="365.00" y2="60.80" stroke="#222" stroke-width="1.0"/>
<line x1="361.40" y1="42.80" x2="365.00" y2="42.80" stroke="#222" stroke-width="1.0"/>
<line x1="361.40" y1="26.50" x2="365.00" y2="26.50" stroke="#222" stroke-width="1.0"/>
<line x1="361.40" y1="10.00" x2="365.00" y2="10.00" stroke="#222" stroke-width="1.0"/>
<rect x="364.50" y="51.10" width="2.60" height="43.50" fill="#111" stroke="none" stroke-width="1"/>
<line x1="466.60" y1="9.70" x2="466.60" y2="95.10" stroke="#959595" stroke-width="1.5"/>
<line x1="365.00" y1="95.40" x2="466.60" y2="95.40" stroke="#bbb" stroke-width="0.6"/>
<line x1="365.00" y1="94.90" x2="365.00" y2="96.40" stroke="#555" stroke-width="0.8"/>
<line x1="380.29" y1="94.90" x2="380.29" y2="96.40" stroke="#555" stroke-width="0.8"/>
<line x1="389.24" y1="94.90" x2="389.24" y2="96.40" stroke="#555" stroke-width="0.8"/>
<line x1="395.58" y1="94.90" x2="395.58" y2="96.40" stroke="#555" stroke-width="0.8"/>
<line x1="400.51" y1="94.90" x2="400.51" y2="96.40" stroke="#555" stroke-width="0.8"/>
<line x1="404.53" y1="94.90" x2="404.53" y2="96.40" stroke="#555" stroke-width="0.8"/>
<line x1="407.93" y1="94.90" x2="407.93" y2="96.40" stroke="#555" stroke-width="0.8"/>
<line x1="410.88" y1="94.90" x2="410.88" y2="96.40" stroke="#555" stroke-width="0.8"/>
<line x1="413.48" y1="94.90" x2="413.48" y2="96.40" stroke="#555" stroke-width="0.8"/>
<line x1="415.80" y1="94.90" x2="415.80" y2="96.40" stroke="#555" stroke-width="0.8"/>
<line x1="431.09" y1="94.90" x2="431.09" y2="96.40" stroke="#555" stroke-width="0.8"/>
<line x1="440.04" y1="94.90" x2="440.04" y2="96.40" stroke="#555" stroke-width="0.8"/>
<line x1="446.38" y1="94.90" x2="446.38" y2="96.40" stroke="#555" stroke-width="0.8"/>
<line x1="451.31" y1="94.90" x2="451.31" y2="96.40" stroke="#555" stroke-width="0.8"/>
<line x1="455.33" y1="94.90" x2="455.33" y2="96.40" stroke="#555" stroke-width="0.8"/>
<line x1="458.73" y1="94.90" x2="458.73" y2="96.40" stroke="#555" stroke-width="0.8"/>
<line x1="461.68" y1="94.90" x2="461.68" y2="96.40" stroke="#555" stroke-width="0.8"/>
<line x1="464.28" y1="94.90" x2="464.28" y2="96.40" stroke="#555" stroke-width="0.8"/>
<line x1="466.60" y1="94.90" x2="466.60" y2="96.60" stroke="#555" stroke-width="0.8"/>
<text x="357.10" y="94.50" font-size="5.3" fill="#1a1a1a" text-anchor="middle" transform="rotate(-90 357.10 94.50)" font-weight="bold">0</text>
<text x="357.10" y="77.50" font-size="5.3" fill="#1a1a1a" text-anchor="middle" transform="rotate(-90 357.10 77.50)" font-weight="bold">40</text>
<text x="357.10" y="60.80" font-size="5.3" fill="#1a1a1a" text-anchor="middle" transform="rotate(-90 357.10 60.80)" font-weight="bold">80</text>
<text x="357.10" y="42.80" font-size="5.3" fill="#1a1a1a" text-anchor="middle" transform="rotate(-90 357.10 42.80)" font-weight="bold">120</text>
<text x="357.10" y="26.50" font-size="5.3" fill="#1a1a1a" text-anchor="middle" transform="rotate(-90 357.10 26.50)" font-weight="bold">160</text>
<text x="357.10" y="10.00" font-size="5.3" fill="#1a1a1a" text-anchor="middle" transform="rotate(-90 357.10 10.00)" font-weight="bold">200</text>
<text x="351.47" y="53.40" font-size="5.2" fill="#222" text-anchor="middle" transform="rotate(-90 351.47 53.40)" font-weight="bold" textLength="16.4" lengthAdjust="spacingAndGlyphs">Counts</text>
<text x="359.40" y="103.40" font-size="6.2" fill="#111" stroke="#111" stroke-width="0.2" textLength="5.8" lengthAdjust="spacingAndGlyphs">10</text>
<text x="367.00" y="100.30" font-size="5.4" fill="#111" stroke="#111" stroke-width="0.2" text-anchor="middle">0</text>
<text x="410.20" y="103.40" font-size="6.2" fill="#111" stroke="#111" stroke-width="0.2" textLength="5.8" lengthAdjust="spacingAndGlyphs">10</text>
<text x="417.80" y="100.30" font-size="5.4" fill="#111" stroke="#111" stroke-width="0.2" text-anchor="middle">1</text>
<text x="461.00" y="103.40" font-size="6.2" fill="#111" stroke="#111" stroke-width="0.2" textLength="5.8" lengthAdjust="spacingAndGlyphs">10</text>
<text x="468.60" y="100.30" font-size="5.4" fill="#111" stroke="#111" stroke-width="0.2" text-anchor="middle">2</text>
<text x="404.80" y="108.00" font-size="4.8" fill="#111" stroke="#111" stroke-width="0.15" textLength="17.5" lengthAdjust="spacingAndGlyphs">FITC-A</text>
<polyline points="365.50,89.59 366.00,89.33 366.50,89.28 367.00,88.33 367.50,86.80 368.00,87.73 368.50,87.70 369.00,85.91 369.50,86.05 370.00,84.82 370.50,86.39 371.00,85.33 371.50,82.21 372.00,83.50 372.50,83.44 373.00,79.49 373.50,77.31 374.00,78.89 374.50,79.21 375.00,77.23 375.50,75.27 376.00,77.56 376.50,74.18 377.00,74.54 377.50,73.40 378.00,70.25 378.50,70.44 379.00,70.32 379.50,64.57 380.00,65.27 380.50,63.48 381.00,62.58 381.50,63.11 382.00,57.18 382.50,60.85 383.00,58.82 383.50,55.91 384.00,53.50 384.50,54.83 385.00,54.38 385.50,51.60 386.00,48.75 386.50,48.94 387.00,47.34 387.50,46.33 388.00,43.06 388.50,48.02 389.00,40.74 389.50,42.76 390.00,35.68 390.50,31.31 391.00,28.23 391.50,28.69 392.00,30.90 392.50,31.31 393.00,33.05 393.50,32.57 394.00,37.77 394.50,34.97 395.00,35.79 395.50,39.05 396.00,33.70 396.50,36.22 397.00,37.83 397.50,37.44 398.00,37.42 398.50,36.78 399.00,40.43 399.50,43.42 400.00,45.20 400.50,43.75 401.00,43.04 401.50,50.35 402.00,47.45 402.50,47.53 403.00,46.95 403.50,51.45 404.00,53.41 404.50,54.46 405.00,56.49 405.50,51.11 406.00,55.50 406.50,56.14 407.00,56.20 407.50,56.37 408.00,64.43 408.50,61.76 409.00,61.93 409.50,60.29 410.00,64.60 410.50,59.41 411.00,60.73 411.50,68.69 412.00,67.80 412.50,67.04 413.00,65.10 413.50,68.77 414.00,72.84 414.50,72.65 415.00,70.90 415.50,69.90 416.00,72.42 416.50,73.60 417.00,74.23 417.50,74.49 418.00,77.47 418.50,75.13 419.00,74.37 419.50,76.25 420.00,76.81 420.50,78.26 421.00,78.50 421.50,79.28 422.00,79.52 422.50,78.33 423.00,80.15 423.50,80.84 424.00,81.23 424.50,81.76 425.00,82.69 425.50,81.58 426.00,82.14 426.50,80.47 427.00,83.05 427.50,86.52 428.00,82.75 428.50,83.80 429.00,84.77 429.50,85.09 430.00,85.13 430.50,86.13 431.00,84.70 431.50,85.52 432.00,85.20 432.50,86.60 433.00,86.40 433.50,85.90 434.00,87.70 434.50,88.69 435.00,86.12 435.50,87.42 436.00,87.38 436.50,88.34 437.00,87.88 437.50,88.44 438.00,87.53 438.50,87.74 439.00,87.80 439.50,86.44 440.00,87.81 440.50,89.39 441.00,90.09 441.50,86.38 442.00,90.39 442.50,88.68 443.00,86.87 443.50,88.40 444.00,88.20 444.50,89.43 445.00,89.44 445.50,88.87 446.00,90.48 446.50,90.03 447.00,89.86 447.50,90.65 448.00,89.81 448.50,87.89 449.00,91.03 449.50,90.43 450.00,90.57 450.50,90.99 451.00,91.27 451.50,89.49 452.00,90.96 452.50,89.21 453.00,90.62 453.50,91.30 454.00,90.68 454.50,90.32 455.00,91.63 455.50,90.46 456.00,90.14 456.50,89.52 457.00,89.94 457.50,91.46 458.00,90.96 458.50,91.56 459.00,91.38 459.50,91.30 460.00,93.00 460.50,91.96 461.00,91.97 461.50,92.62 462.00,91.76 462.50,91.62 463.00,91.91 463.50,91.96 464.00,92.54 464.50,91.78 465.00,90.78 465.50,91.86 466.00,92.19 466.50,92.00" fill="none" stroke="#2a2a2a" stroke-width="0.85" stroke-linejoin="round"/>
<polyline points="365.50,90.96 366.00,89.20 366.50,88.90 367.00,88.43 367.50,89.10 368.00,88.16 368.50,86.32 369.00,86.77 369.50,83.58 370.00,85.04 370.50,85.92 371.00,85.46 371.50,83.81 372.00,83.14 372.50,83.92 373.00,76.95 373.50,79.37 374.00,81.59 374.50,74.81 375.00,79.81 375.50,74.67 376.00,75.18 376.50,75.63 377.00,72.91 377.50,73.25 378.00,75.46 378.50,70.45 379.00,67.76 379.50,66.67 380.00,65.32 380.50,64.37 381.00,63.10 381.50,60.11 382.00,61.17 382.50,59.42 383.00,58.83 383.50,57.97 384.00,56.89 384.50,55.28 385.00,53.39 385.50,50.34 386.00,50.91 386.50,51.51 387.00,45.47 387.50,47.11 388.00,42.44 388.50,48.18 389.00,46.28 389.50,42.95 390.00,38.07 390.50,32.68 391.00,27.12 391.50,26.97 392.00,29.95 392.50,30.19 393.00,32.33 393.50,32.04 394.00,37.33 394.50,32.50 395.00,37.62 395.50,35.75 396.00,35.60 396.50,34.71 397.00,39.26 397.50,36.81 398.00,34.19 398.50,37.53 399.00,40.45 399.50,41.57 400.00,44.12 400.50,44.78 401.00,45.26 401.50,49.96 402.00,44.36 402.50,48.38 403.00,49.55 403.50,51.06 404.00,54.52 404.50,52.93 405.00,57.39 405.50,60.67 406.00,55.58 406.50,56.30 407.00,56.86 407.50,59.41 408.00,58.82 408.50,58.52 409.00,59.86 409.50,62.35 410.00,63.25 410.50,61.07 411.00,65.04 411.50,65.71 412.00,66.88 412.50,62.18 413.00,67.99 413.50,67.62 414.00,70.69 414.50,66.26 415.00,70.99 415.50,72.04 416.00,72.61 416.50,73.97 417.00,73.27 417.50,71.84 418.00,72.99 418.50,76.22 419.00,78.42 419.50,76.75 420.00,76.65 420.50,77.11 421.00,76.32 421.50,79.84 422.00,79.91 422.50,82.05 423.00,81.27 423.50,79.58 424.00,79.76 424.50,81.23 425.00,83.06 425.50,82.60 426.00,82.07 426.50,82.65 427.00,83.46 427.50,83.86 428.00,82.38 428.50,83.56 429.00,86.20 429.50,85.28 430.00,84.95 430.50,85.56 431.00,86.77 431.50,82.85 432.00,85.89 432.50,87.27 433.00,86.86 433.50,87.49 434.00,85.31 434.50,85.60 435.00,86.68 435.50,89.51 436.00,87.62 436.50,86.75 437.00,88.86 437.50,87.13 438.00,88.20 438.50,87.63 439.00,87.47 439.50,88.68 440.00,87.68 440.50,87.76 441.00,89.52 441.50,89.46 442.00,90.16 442.50,90.03 443.00,89.17 443.50,89.34 444.00,88.76 444.50,90.12 445.00,89.93 445.50,90.05 446.00,90.54 446.50,90.82 447.00,91.10 447.50,90.23 448.00,89.77 448.50,90.83 449.00,90.89 449.50,91.56 450.00,89.67 450.50,90.72 451.00,90.19 451.50,89.37 452.00,91.12 452.50,90.77 453.00,89.84 453.50,89.55 454.00,90.17 454.50,90.91 455.00,91.77 455.50,91.48 456.00,91.58 456.50,90.54 457.00,92.03 457.50,92.03 458.00,92.23 458.50,91.23 459.00,91.24 459.50,90.96 460.00,91.60 460.50,91.77 461.00,91.30 461.50,90.93 462.00,90.65 462.50,92.68 463.00,92.09 463.50,91.32 464.00,91.93 464.50,91.51 465.00,91.72 465.50,91.92 466.00,91.51 466.50,92.00" fill="none" stroke="#4a4a4a" stroke-width="0.7" stroke-linejoin="round"/>
<polyline points="365.50,93.83 366.00,92.53 366.50,92.37 367.00,92.24 367.50,92.75 368.00,92.16 368.50,92.57 369.00,92.22 369.50,91.96 370.00,92.06 370.50,92.01 371.00,91.61 371.50,91.87 372.00,91.55 372.50,91.42 373.00,91.73 373.50,91.62 374.00,91.72 374.50,91.56 375.00,91.47 375.50,91.25 376.00,91.04 376.50,90.13 377.00,89.52 377.50,89.41 378.00,88.33 378.50,88.70 379.00,88.40 379.50,88.72 380.00,87.08 380.50,87.08 381.00,86.85 381.50,86.10 382.00,86.37 382.50,84.76 383.00,83.23 383.50,83.62 384.00,82.32 384.50,81.68 385.00,81.62 385.50,80.77 386.00,79.34 386.50,77.83 387.00,76.58 387.50,77.51 388.00,73.61 388.50,72.99 389.00,71.89 389.50,70.85 390.00,70.10 390.50,68.27 391.00,66.21 391.50,64.13 392.00,63.53 392.50,62.44 393.00,61.10 393.50,57.46 394.00,57.97 394.50,55.09 395.00,54.28 395.50,51.73 396.00,51.07 396.50,51.12 397.00,48.33 397.50,47.26 398.00,44.24 398.50,43.50 399.00,42.17 399.50,39.54 400.00,39.23 400.50,36.23 401.00,33.21 401.50,31.67 402.00,27.47 402.50,23.84 403.00,26.33 403.50,27.59 404.00,28.53 404.50,30.39 405.00,31.71 405.50,28.25 406.00,26.36 406.50,28.30 407.00,30.37 407.50,33.30 408.00,35.91 408.50,36.35 409.00,37.49 409.50,38.80 410.00,43.08 410.50,42.90 411.00,46.72 411.50,46.33 412.00,49.23 412.50,51.56 413.00,53.01 413.50,56.21 414.00,55.41 414.50,59.73 415.00,60.99 415.50,61.83 416.00,59.93 416.50,63.68 417.00,66.04 417.50,67.17 418.00,66.12 418.50,68.95 419.00,69.46 419.50,71.75 420.00,73.90 420.50,76.92 421.00,75.43 421.50,76.48 422.00,77.22 422.50,78.16 423.00,79.79 423.50,78.73 424.00,80.69 424.50,78.20 425.00,80.39 425.50,81.39 426.00,82.17 426.50,81.81 427.00,81.67 427.50,83.24 428.00,83.62 428.50,83.90 429.00,84.84 429.50,85.15 430.00,85.68 430.50,85.31 431.00,86.94 431.50,85.68 432.00,85.60 432.50,86.47 433.00,86.07 433.50,87.46 434.00,87.38 434.50,87.22 435.00,86.94 435.50,86.23 436.00,88.32 436.50,88.75 437.00,88.92 437.50,88.68 438.00,90.47 438.50,88.87 439.00,89.10 439.50,89.16 440.00,89.51 440.50,89.25 441.00,88.74 441.50,89.14 442.00,89.17 442.50,89.57 443.00,89.51 443.50,89.48 444.00,90.11 444.50,90.03 445.00,89.70 445.50,89.86 446.00,89.34 446.50,90.09 447.00,90.04 447.50,90.06 448.00,89.73 448.50,90.37 449.00,90.53 449.50,90.59 450.00,90.85 450.50,90.88 451.00,90.45 451.50,90.84 452.00,90.59 452.50,91.28 453.00,90.70 453.50,91.98 454.00,90.63 454.50,90.94 455.00,90.77 455.50,91.71 456.00,90.93 456.50,90.85 457.00,91.08 457.50,90.89 458.00,91.35 458.50,90.85 459.00,91.21 459.50,91.64 460.00,91.29 460.50,91.77 461.00,91.87 461.50,90.67 462.00,91.59 462.50,91.45 463.00,91.84 463.50,91.70 464.00,91.55 464.50,92.31 465.00,91.82 465.50,92.04 466.00,92.20 466.50,92.00" fill="none" stroke="#000" stroke-width="1.7" stroke-linejoin="round"/>
<polyline points="365.50,92.36 366.00,91.58 366.50,92.48 367.00,91.76 367.50,92.84 368.00,92.25 368.50,92.55 369.00,91.87 369.50,91.99 370.00,91.67 370.50,92.56 371.00,91.83 371.50,92.09 372.00,92.01 372.50,91.55 373.00,91.90 373.50,91.54 374.00,91.24 374.50,91.03 375.00,90.48 375.50,90.45 376.00,90.10 376.50,89.78 377.00,89.62 377.50,89.50 378.00,89.18 378.50,88.74 379.00,88.12 379.50,87.63 380.00,86.71 380.50,88.62 381.00,88.64 381.50,85.22 382.00,86.32 382.50,85.72 383.00,82.72 383.50,84.23 384.00,82.05 384.50,80.86 385.00,80.93 385.50,79.99 386.00,78.74 386.50,77.37 387.00,76.68 387.50,76.07 388.00,73.95 388.50,73.82 389.00,72.20 389.50,70.93 390.00,69.90 390.50,67.66 391.00,67.08 391.50,65.82 392.00,62.17 392.50,62.49 393.00,60.26 393.50,58.90 394.00,58.01 394.50,55.87 395.00,54.43 395.50,52.96 396.00,50.95 396.50,50.01 397.00,49.22 397.50,46.19 398.00,46.94 398.50,44.28 399.00,42.94 399.50,40.44 400.00,36.88 400.50,36.45 401.00,33.76 401.50,29.79 402.00,28.42 402.50,24.04 403.00,26.04 403.50,26.92 404.00,29.20 404.50,30.46 405.00,30.38 405.50,30.00 406.00,27.49 406.50,27.74 407.00,31.94 407.50,30.58 408.00,33.19 408.50,35.74 409.00,37.87 409.50,39.53 410.00,42.42 410.50,43.73 411.00,46.09 411.50,46.31 412.00,49.72 412.50,50.77 413.00,54.12 413.50,54.02 414.00,56.35 414.50,57.77 415.00,60.50 415.50,62.23 416.00,62.74 416.50,64.11 417.00,66.29 417.50,67.37 418.00,67.36 418.50,70.08 419.00,70.11 419.50,73.79 420.00,73.14 420.50,73.86 421.00,74.94 421.50,76.49 422.00,76.40 422.50,76.24 423.00,77.72 423.50,78.38 424.00,78.12 424.50,79.31 425.00,80.61 425.50,81.11 426.00,81.84 426.50,82.42 427.00,82.40 427.50,83.05 428.00,84.03 428.50,84.85 429.00,85.05 429.50,85.24 430.00,84.72 430.50,85.14 431.00,85.21 431.50,86.31 432.00,86.06 432.50,85.08 433.00,86.30 433.50,87.36 434.00,86.78 434.50,87.54 435.00,87.66 435.50,87.82 436.00,87.91 436.50,88.24 437.00,89.15 437.50,88.63 438.00,88.91 438.50,88.84 439.00,89.58 439.50,89.37 440.00,89.23 440.50,89.30 441.00,88.62 441.50,89.38 442.00,89.25 442.50,89.53 443.00,89.92 443.50,90.27 444.00,90.81 444.50,89.62 445.00,90.31 445.50,90.08 446.00,90.30 446.50,90.17 447.00,89.93 447.50,89.94 448.00,90.62 448.50,90.99 449.00,91.38 449.50,90.37 450.00,91.01 450.50,91.69 451.00,90.63 451.50,90.50 452.00,90.89 452.50,91.11 453.00,92.02 453.50,91.30 454.00,90.78 454.50,90.74 455.00,91.03 455.50,90.96 456.00,90.87 456.50,91.00 457.00,91.06 457.50,91.08 458.00,91.23 458.50,91.50 459.00,91.57 459.50,91.04 460.00,91.13 460.50,91.00 461.00,91.77 461.50,91.41 462.00,91.91 462.50,91.64 463.00,91.04 463.50,91.92 464.00,91.71 464.50,92.51 465.00,91.99 465.50,91.82 466.00,91.65 466.50,92.00" fill="none" stroke="#111" stroke-width="1.1" stroke-linejoin="round"/>
<text x="391.50" y="21.80" font-size="10" fill="#000" stroke="#000" stroke-width="0.35" text-anchor="middle">d</text>
<text x="404.50" y="16.20" font-size="10" fill="#000" stroke="#000" stroke-width="0.35" text-anchor="middle">c</text>
<text x="337.60" y="11.50" font-size="14.5" fill="#000" font-weight="bold">C</text>
<rect x="53.70" y="110.50" width="405.80" height="14.10" fill="none" stroke="#111" stroke-width="1.6"/>
<text x="58.50" y="121.90" font-size="10" fill="#000" stroke="#000" stroke-width="0.3" textLength="47.3" lengthAdjust="spacingAndGlyphs">a = DMSO</text>
<text x="121.20" y="121.90" font-size="10" fill="#000" stroke="#000" stroke-width="0.3" textLength="98" lengthAdjust="spacingAndGlyphs">c = 400 nM Chaetocin</text>
<text x="237.6" y="121.9" font-size="10" stroke="#000" stroke-width="0.3">b = 200<tspan font-size="6">&#956;</tspan>M H<tspan font-size="7.5">2</tspan>O<tspan font-size="7.5">2</tspan></text>
<text x="326.50" y="121.90" font-size="10" fill="#000" stroke="#000" stroke-width="0.3" textLength="132" lengthAdjust="spacingAndGlyphs">d = 400 nM Chaetocin + NAC</text>
<text x="0.00" y="139.50" font-size="15" fill="#000" font-weight="bold">D</text>
<line x1="36.80" y1="141.60" x2="36.80" y2="240.80" stroke="#777" stroke-width="1"/>
<line x1="34.30" y1="240.80" x2="36.80" y2="240.80" stroke="#777" stroke-width="0.8"/>
<text x="32.60" y="243.81" font-size="8.4" fill="#444" text-anchor="end">10</text>
<line x1="34.30" y1="228.40" x2="36.80" y2="228.40" stroke="#777" stroke-width="0.8"/>
<text x="32.60" y="231.41" font-size="8.4" fill="#444" text-anchor="end">0</text>
<line x1="34.30" y1="216.00" x2="36.80" y2="216.00" stroke="#777" stroke-width="0.8"/>
<text x="32.60" y="219.01" font-size="8.4" fill="#444" text-anchor="end">10</text>
<line x1="34.30" y1="203.60" x2="36.80" y2="203.60" stroke="#777" stroke-width="0.8"/>
<text x="32.60" y="206.61" font-size="8.4" fill="#444" text-anchor="end">20</text>
<line x1="34.30" y1="191.20" x2="36.80" y2="191.20" stroke="#777" stroke-width="0.8"/>
<text x="32.60" y="194.21" font-size="8.4" fill="#444" text-anchor="end">30</text>
<line x1="34.30" y1="178.80" x2="36.80" y2="178.80" stroke="#777" stroke-width="0.8"/>
<text x="32.60" y="181.81" font-size="8.4" fill="#444" text-anchor="end">40</text>
<line x1="34.30" y1="166.40" x2="36.80" y2="166.40" stroke="#777" stroke-width="0.8"/>
<text x="32.60" y="169.41" font-size="8.4" fill="#444" text-anchor="end">50</text>
<line x1="34.30" y1="154.00" x2="36.80" y2="154.00" stroke="#777" stroke-width="0.8"/>
<text x="32.60" y="157.01" font-size="8.4" fill="#444" text-anchor="end">60</text>
<line x1="34.30" y1="141.60" x2="36.80" y2="141.60" stroke="#777" stroke-width="0.8"/>
<text x="32.60" y="144.61" font-size="8.4" fill="#444" text-anchor="end">70</text>
<line x1="36.80" y1="228.40" x2="166.50" y2="228.40" stroke="#333" stroke-width="0.9"/>
<line x1="36.80" y1="240.80" x2="166.50" y2="240.80" stroke="#555" stroke-width="0.9"/>
<line x1="57.50" y1="240.80" x2="57.50" y2="242.60" stroke="#555" stroke-width="0.8"/>
<line x1="77.90" y1="240.80" x2="77.90" y2="242.60" stroke="#555" stroke-width="0.8"/>
<line x1="98.30" y1="240.80" x2="98.30" y2="242.60" stroke="#555" stroke-width="0.8"/>
<line x1="118.70" y1="240.80" x2="118.70" y2="242.60" stroke="#555" stroke-width="0.8"/>
<line x1="139.10" y1="240.80" x2="139.10" y2="242.60" stroke="#555" stroke-width="0.8"/>
<line x1="159.50" y1="240.80" x2="159.50" y2="242.60" stroke="#555" stroke-width="0.8"/>
<text x="13.95" y="190.30" font-size="7.2" fill="#2a2a2a" text-anchor="middle" transform="rotate(-90 13.95 190.30)" stroke="#2a2a2a" stroke-width="0.15" textLength="73" lengthAdjust="spacingAndGlyphs">Induced Oxidative Stress</text>
<text x="21.75" y="191.10" font-size="7.2" fill="#2a2a2a" text-anchor="middle" transform="rotate(-90 21.75 191.10)" stroke="#2a2a2a" stroke-width="0.15" textLength="100.6" lengthAdjust="spacingAndGlyphs">(Peak Shift from DMSO, Fl-1 Units)</text>
<line x1="57.50" y1="228.40" x2="57.50" y2="220.96" stroke="#444" stroke-width="0.9"/>
<line x1="56.10" y1="220.96" x2="58.90" y2="220.96" stroke="#444" stroke-width="0.9"/>
<rect x="71.40" y="161.44" width="12.40" height="66.96" fill="#c4c4c4" stroke="#333" stroke-width="1.1"/>
<line x1="77.60" y1="161.44" x2="77.60" y2="155.86" stroke="#444" stroke-width="0.9"/>
<line x1="76.20" y1="155.86" x2="79.00" y2="155.86" stroke="#444" stroke-width="0.9"/>
<rect x="91.80" y="228.40" width="12.40" height="3.72" fill="#c4c4c4" stroke="#333" stroke-width="1.1"/>
<line x1="98.00" y1="232.12" x2="98.00" y2="224.06" stroke="#444" stroke-width="0.9"/>
<line x1="96.60" y1="224.06" x2="99.40" y2="224.06" stroke="#444" stroke-width="0.9"/>
<rect x="112.30" y="209.80" width="12.40" height="18.60" fill="#c4c4c4" stroke="#333" stroke-width="1.1"/>
<line x1="118.50" y1="209.80" x2="118.50" y2="208.31" stroke="#444" stroke-width="0.9"/>
<line x1="117.10" y1="208.31" x2="119.90" y2="208.31" stroke="#444" stroke-width="0.9"/>
<rect x="132.60" y="181.28" width="12.40" height="47.12" fill="#c4c4c4" stroke="#333" stroke-width="1.1"/>
<line x1="138.80" y1="181.28" x2="138.80" y2="175.08" stroke="#444" stroke-width="0.9"/>
<line x1="137.40" y1="175.08" x2="140.20" y2="175.08" stroke="#444" stroke-width="0.9"/>
<rect x="152.40" y="219.72" width="12.40" height="8.68" fill="#c4c4c4" stroke="#333" stroke-width="1.1"/>
<line x1="158.60" y1="219.72" x2="158.60" y2="212.90" stroke="#444" stroke-width="0.9"/>
<line x1="157.20" y1="212.90" x2="160.00" y2="212.90" stroke="#444" stroke-width="0.9"/>
<text x="59.30" y="219.60" font-size="8.6" fill="#333" text-anchor="middle">a</text>
<text x="80.90" y="152.90" font-size="8.6" fill="#333" text-anchor="middle">b</text>
<text x="139.70" y="172.30" font-size="8.6" fill="#333" text-anchor="middle">c</text>
<text x="158.50" y="210.80" font-size="8.6" fill="#333" text-anchor="middle">d</text>
<polyline points="59.60,206.80 59.60,140.50 137.70,140.50 137.70,161.30" fill="none" stroke="#1a1a1a" stroke-width="1.5" stroke-linejoin="round"/>
<polyline points="142.70,161.30 142.70,146.20 161.40,146.20 161.40,197.00" fill="none" stroke="#1a1a1a" stroke-width="1.5" stroke-linejoin="round"/>
<text x="105.8" y="150.1" font-size="8.3" text-anchor="middle" fill="#1a1a1a" stroke="#1a1a1a" stroke-width="0.2"><tspan font-style="italic">P</tspan>&lt;.01</text>
<text x="155.7" y="160" font-size="8.5" text-anchor="middle" fill="#1a1a1a" stroke="#1a1a1a" stroke-width="0.2" transform="rotate(-90 155.9 160)"><tspan font-style="italic">P</tspan>&lt;.05</text>
<text x="61.1" y="248.3" font-size="7.4" text-anchor="end" fill="#222" stroke="#222" stroke-width="0.2" textLength="22.5" lengthAdjust="spacingAndGlyphs" transform="rotate(-45 61.1 248.3)">DMSO</text>
<text x="81.4" y="249.5" font-size="7.4" text-anchor="end" fill="#222" stroke="#222" stroke-width="0.2" textLength="40" lengthAdjust="spacingAndGlyphs" transform="rotate(-45 81.4 249.5)">200 &#956;M H<tspan font-size="5.2" dy="0.8">2</tspan><tspan dy="-0.8">O</tspan><tspan font-size="5.2" dy="0.8">2</tspan></text>
<text x="101.1" y="248.3" font-size="7.4" text-anchor="end" fill="#222" stroke="#222" stroke-width="0.2" textLength="55.7" lengthAdjust="spacingAndGlyphs" transform="rotate(-45 101.1 248.3)">100 nM Chaetocin</text>
<text x="121.5" y="248.3" font-size="7.4" text-anchor="end" fill="#222" stroke="#222" stroke-width="0.2" textLength="55.7" lengthAdjust="spacingAndGlyphs" transform="rotate(-45 121.5 248.3)">200 nM Chaetocin</text>
<text x="140.6" y="249.5" font-size="7.4" text-anchor="end" fill="#222" stroke="#222" stroke-width="0.2" textLength="55.7" lengthAdjust="spacingAndGlyphs" transform="rotate(-45 140.6 249.5)">400 nM Chaetocin</text>
<text x="160.0" y="249.5" font-size="7.4" text-anchor="end" fill="#222" stroke="#222" stroke-width="0.2" textLength="60.7" lengthAdjust="spacingAndGlyphs" transform="rotate(-45 160.0 249.5)">400 nM Chaetocin +</text>
<text x="165.0" y="256.5" font-size="7.4" text-anchor="end" fill="#222" stroke="#222" stroke-width="0.2" textLength="36.3" lengthAdjust="spacingAndGlyphs" transform="rotate(-45 165.0 256.5)">10 mM NAC</text>
<text x="161.80" y="139.80" font-size="15" fill="#000" font-weight="bold">E</text>
<line x1="197.80" y1="135.30" x2="197.80" y2="241.60" stroke="#888" stroke-width="0.9"/>
<line x1="197.80" y1="241.60" x2="349.80" y2="241.60" stroke="#888" stroke-width="0.9"/>
<line x1="195.60" y1="241.20" x2="197.80" y2="241.20" stroke="#888" stroke-width="0.8"/>
<text x="192.40" y="243.52" font-size="7.6" fill="#3a3a3a" text-anchor="end">0</text>
<line x1="195.60" y1="209.70" x2="197.80" y2="209.70" stroke="#888" stroke-width="0.8"/>
<text x="192.40" y="212.02" font-size="7.6" fill="#3a3a3a" text-anchor="end">50</text>
<line x1="195.60" y1="178.20" x2="197.80" y2="178.20" stroke="#888" stroke-width="0.8"/>
<text x="192.40" y="180.52" font-size="7.6" fill="#3a3a3a" text-anchor="end">100</text>
<line x1="195.60" y1="146.70" x2="197.80" y2="146.70" stroke="#888" stroke-width="0.8"/>
<text x="192.40" y="149.02" font-size="7.6" fill="#3a3a3a" text-anchor="end">150</text>
<line x1="197.80" y1="241.60" x2="197.80" y2="243.60" stroke="#888" stroke-width="0.8"/>
<text x="197.80" y="253.32" font-size="7.6" fill="#3a3a3a" text-anchor="middle">0</text>
<line x1="235.70" y1="241.60" x2="235.70" y2="243.60" stroke="#888" stroke-width="0.8"/>
<text x="235.70" y="253.32" font-size="7.6" fill="#3a3a3a" text-anchor="middle">100</text>
<line x1="273.60" y1="241.60" x2="273.60" y2="243.60" stroke="#888" stroke-width="0.8"/>
<text x="273.60" y="253.32" font-size="7.6" fill="#3a3a3a" text-anchor="middle">200</text>
<line x1="311.50" y1="241.60" x2="311.50" y2="243.60" stroke="#888" stroke-width="0.8"/>
<text x="311.50" y="253.32" font-size="7.6" fill="#3a3a3a" text-anchor="middle">300</text>
<line x1="349.40" y1="241.60" x2="349.40" y2="243.60" stroke="#888" stroke-width="0.8"/>
<text x="349.40" y="253.32" font-size="7.6" fill="#3a3a3a" text-anchor="middle">400</text>
<text x="248.30" y="265.59" font-size="7.8" fill="#3a3a3a" textLength="51.2" lengthAdjust="spacingAndGlyphs">Chaetocin (nM)</text>
<text x="179.48" y="186.60" font-size="7.6" fill="#2a2a2a" text-anchor="middle" transform="rotate(-90 179.48 186.60)" stroke="#2a2a2a" stroke-width="0.15" textLength="112.5" lengthAdjust="spacingAndGlyphs">Glutathione (% Control, Reduced)</text>
<polyline points="197.80,178.20 207.28,153.63 216.75,156.78 235.70,155.52 273.60,142.29 349.40,154.57" fill="none" stroke="#999" stroke-width="0.9" stroke-linejoin="round"/>
<polyline points="197.80,178.20 207.28,176.94 216.75,202.14 235.70,187.65 273.60,188.91 349.40,178.20" fill="none" stroke="#222" stroke-width="1.0" stroke-linejoin="round"/>
<circle cx="197.80" cy="178.20" r="2.3" fill="#000" stroke="none" stroke-width="1"/>
<circle cx="207.28" cy="176.94" r="2.3" fill="#000" stroke="none" stroke-width="1"/>
<circle cx="216.75" cy="202.14" r="2.3" fill="#000" stroke="none" stroke-width="1"/>
<circle cx="235.70" cy="187.65" r="2.3" fill="#000" stroke="none" stroke-width="1"/>
<circle cx="273.60" cy="188.91" r="2.3" fill="#000" stroke="none" stroke-width="1"/>
<circle cx="349.40" cy="178.20" r="2.3" fill="#000" stroke="none" stroke-width="1"/>
<circle cx="197.80" cy="178.20" r="2.4" fill="#fff" stroke="#3a3a3a" stroke-width="0.9"/>
<circle cx="207.28" cy="153.63" r="2.4" fill="#fff" stroke="#3a3a3a" stroke-width="0.9"/>
<circle cx="216.75" cy="156.78" r="2.4" fill="#fff" stroke="#3a3a3a" stroke-width="0.9"/>
<circle cx="235.70" cy="155.52" r="2.4" fill="#fff" stroke="#3a3a3a" stroke-width="0.9"/>
<circle cx="273.60" cy="142.29" r="2.4" fill="#fff" stroke="#3a3a3a" stroke-width="0.9"/>
<circle cx="349.40" cy="154.57" r="2.4" fill="#fff" stroke="#3a3a3a" stroke-width="0.9"/>
<rect x="215.20" y="210.20" width="129.60" height="23.20" fill="#fff" stroke="#555" stroke-width="0.9"/>
<line x1="218.50" y1="217.30" x2="233.80" y2="217.30" stroke="#222" stroke-width="0.9"/>
<circle cx="226.20" cy="217.30" r="2.1" fill="#000" stroke="none" stroke-width="1"/>
<line x1="218.50" y1="226.40" x2="233.80" y2="226.40" stroke="#999" stroke-width="0.9"/>
<circle cx="226.20" cy="226.40" r="2.0" fill="#fff" stroke="#444" stroke-width="0.8"/>
<text x="238.50" y="220.09" font-size="7.8" fill="#333" textLength="34" lengthAdjust="spacingAndGlyphs">Chaetocin</text>
<text x="238.50" y="229.19" font-size="7.8" fill="#333" textLength="102.4" lengthAdjust="spacingAndGlyphs">1 mM Glutathione + Chaetocin</text>
<text x="358.60" y="139.80" font-size="15" fill="#000" font-weight="bold">F</text>
<line x1="390.80" y1="146.70" x2="390.80" y2="230.10" stroke="#777" stroke-width="0.9"/>
<line x1="390.80" y1="230.10" x2="515.70" y2="230.10" stroke="#777" stroke-width="0.9"/>
<line x1="388.60" y1="230.10" x2="390.80" y2="230.10" stroke="#777" stroke-width="0.8"/>
<text x="387.40" y="232.43" font-size="6.5" fill="#2a2a2a" stroke="#2a2a2a" stroke-width="0.12" text-anchor="end">0</text>
<line x1="388.60" y1="216.20" x2="390.80" y2="216.20" stroke="#777" stroke-width="0.8"/>
<text x="387.40" y="218.53" font-size="6.5" fill="#2a2a2a" stroke="#2a2a2a" stroke-width="0.12" text-anchor="end">10</text>
<line x1="388.60" y1="202.30" x2="390.80" y2="202.30" stroke="#777" stroke-width="0.8"/>
<text x="387.40" y="204.63" font-size="6.5" fill="#2a2a2a" stroke="#2a2a2a" stroke-width="0.12" text-anchor="end">20</text>
<line x1="388.60" y1="188.40" x2="390.80" y2="188.40" stroke="#777" stroke-width="0.8"/>
<text x="387.40" y="190.73" font-size="6.5" fill="#2a2a2a" stroke="#2a2a2a" stroke-width="0.12" text-anchor="end">30</text>
<line x1="388.60" y1="174.50" x2="390.80" y2="174.50" stroke="#777" stroke-width="0.8"/>
<text x="387.40" y="176.83" font-size="6.5" fill="#2a2a2a" stroke="#2a2a2a" stroke-width="0.12" text-anchor="end">40</text>
<line x1="388.60" y1="160.60" x2="390.80" y2="160.60" stroke="#777" stroke-width="0.8"/>
<text x="387.40" y="162.93" font-size="6.5" fill="#2a2a2a" stroke="#2a2a2a" stroke-width="0.12" text-anchor="end">50</text>
<line x1="388.60" y1="146.70" x2="390.80" y2="146.70" stroke="#777" stroke-width="0.8"/>
<text x="387.40" y="149.03" font-size="6.5" fill="#2a2a2a" stroke="#2a2a2a" stroke-width="0.12" text-anchor="end">60</text>
<text x="367.64" y="190.70" font-size="6" fill="#2a2a2a" text-anchor="middle" transform="rotate(-90 367.64 190.70)" stroke="#2a2a2a" stroke-width="0.15" textLength="66.5" lengthAdjust="spacingAndGlyphs">Induced Oxidative Stress</text>
<text x="375.24" y="190.00" font-size="6" fill="#2a2a2a" text-anchor="middle" transform="rotate(-90 375.24 190.00)" stroke="#2a2a2a" stroke-width="0.15" textLength="92.9" lengthAdjust="spacingAndGlyphs">(Peak Shift from DMSO, Fl-1 Units)</text>
<line x1="422.50" y1="230.10" x2="422.50" y2="224.54" stroke="#444" stroke-width="0.9"/>
<line x1="421.30" y1="224.54" x2="423.70" y2="224.54" stroke="#444" stroke-width="0.9"/>
<rect x="445.80" y="172.14" width="19.60" height="57.96" fill="#c4c4c4" stroke="#333" stroke-width="1.1"/>
<line x1="455.60" y1="172.14" x2="455.60" y2="151.56" stroke="#444" stroke-width="0.9"/>
<line x1="454.40" y1="151.56" x2="456.80" y2="151.56" stroke="#444" stroke-width="0.9"/>
<rect x="477.50" y="169.77" width="19.60" height="60.33" fill="#c4c4c4" stroke="#333" stroke-width="1.1"/>
<line x1="487.30" y1="169.77" x2="487.30" y2="164.21" stroke="#444" stroke-width="0.9"/>
<line x1="486.10" y1="164.21" x2="488.50" y2="164.21" stroke="#444" stroke-width="0.9"/>
<polyline points="422.50,217.60 422.50,141.70 456.00,141.70 456.00,148.50" fill="none" stroke="#1a1a1a" stroke-width="1.4" stroke-linejoin="round"/>
<text x="438.4" y="136.5" font-size="8.6" text-anchor="middle" fill="#1a1a1a" stroke="#1a1a1a" stroke-width="0.2"><tspan font-style="italic">P</tspan>&lt;.001</text>
<text x="424.3" y="236.6" font-size="7.5" text-anchor="end" fill="#222" stroke="#222" stroke-width="0.2" textLength="35.5" lengthAdjust="spacingAndGlyphs" transform="rotate(-44 424.3 236.6)">Untreated</text>
<text x="447.6" y="237.8" font-size="7.5" text-anchor="end" fill="#222" stroke="#222" stroke-width="0.2" textLength="26" lengthAdjust="spacingAndGlyphs" transform="rotate(-44 447.6 237.8)">200 nM</text>
<text x="459.3" y="239.6" font-size="7.5" text-anchor="end" fill="#222" stroke="#222" stroke-width="0.2" textLength="31.5" lengthAdjust="spacingAndGlyphs" transform="rotate(-44 459.3 239.6)">Chaetocin</text>
<text x="485.2" y="236.6" font-size="7.5" text-anchor="end" fill="#222" stroke="#222" stroke-width="0.2" textLength="27" lengthAdjust="spacingAndGlyphs" transform="rotate(-44 485.2 236.6)">200 &#956;M</text>
<text x="489.0" y="243.6" font-size="7.5" text-anchor="end" fill="#222" stroke="#222" stroke-width="0.2" textLength="15" lengthAdjust="spacingAndGlyphs" transform="rotate(-44 489.0 243.6)">H<tspan font-size="5">2</tspan>O<tspan font-size="5">2</tspan></text>
<text x="169.60" y="268.80" font-size="15" fill="#000" font-weight="bold">G</text>
<line x1="200.90" y1="278.80" x2="200.90" y2="371.20" stroke="#777" stroke-width="0.9"/>
<line x1="200.90" y1="371.20" x2="334.60" y2="371.20" stroke="#777" stroke-width="0.9"/>
<line x1="198.80" y1="371.20" x2="200.90" y2="371.20" stroke="#777" stroke-width="0.8"/>
<text x="196.60" y="372.89" font-size="6.4" fill="#3a3a3a" text-anchor="end" textLength="8.2" lengthAdjust="spacingAndGlyphs">0.0</text>
<line x1="198.80" y1="348.10" x2="200.90" y2="348.10" stroke="#777" stroke-width="0.8"/>
<text x="196.60" y="349.79" font-size="6.4" fill="#3a3a3a" text-anchor="end" textLength="8.2" lengthAdjust="spacingAndGlyphs">0.5</text>
<line x1="198.80" y1="325.00" x2="200.90" y2="325.00" stroke="#777" stroke-width="0.8"/>
<text x="196.60" y="326.69" font-size="6.4" fill="#3a3a3a" text-anchor="end" textLength="8.2" lengthAdjust="spacingAndGlyphs">1.0</text>
<line x1="198.80" y1="301.90" x2="200.90" y2="301.90" stroke="#777" stroke-width="0.8"/>
<text x="196.60" y="303.59" font-size="6.4" fill="#3a3a3a" text-anchor="end" textLength="8.2" lengthAdjust="spacingAndGlyphs">1.5</text>
<line x1="198.80" y1="278.80" x2="200.90" y2="278.80" stroke="#777" stroke-width="0.8"/>
<text x="196.60" y="280.49" font-size="6.4" fill="#3a3a3a" text-anchor="end" textLength="8.2" lengthAdjust="spacingAndGlyphs">2.0</text>
<line x1="268.00" y1="371.20" x2="268.00" y2="373.00" stroke="#777" stroke-width="0.8"/>
<text x="176.01" y="324.50" font-size="6.8" fill="#2a2a2a" text-anchor="middle" transform="rotate(-90 176.01 324.50)" stroke="#2a2a2a" stroke-width="0.15" textLength="92.2" lengthAdjust="spacingAndGlyphs">Relative Intracellular Chaetocin</text>
<text x="182.41" y="326.10" font-size="6.8" fill="#2a2a2a" text-anchor="middle" transform="rotate(-90 182.41 326.10)" stroke="#2a2a2a" stroke-width="0.15" textLength="83" lengthAdjust="spacingAndGlyphs">([CD138-]/[Paired CD138+])</text>
<rect x="247.60" y="290.00" width="40.50" height="59.60" fill="#c4c4c4" stroke="#333" stroke-width="0.9"/>
<line x1="201.00" y1="325.00" x2="316.00" y2="325.00" stroke="#b0b0b0" stroke-width="0.8"/>
<line x1="247.60" y1="321.40" x2="288.10" y2="321.40" stroke="#333" stroke-width="1.2"/>
<circle cx="268.20" cy="290.00" r="1.6" fill="#000" stroke="none" stroke-width="1"/>
<circle cx="268.20" cy="317.30" r="1.6" fill="#000" stroke="none" stroke-width="1"/>
<circle cx="268.20" cy="330.50" r="1.6" fill="#000" stroke="none" stroke-width="1"/>
<circle cx="268.20" cy="352.60" r="1.6" fill="#000" stroke="none" stroke-width="1"/>
<text x="325.20" y="268.30" font-size="15" fill="#000" font-weight="bold">H</text>
<line x1="370.30" y1="272.30" x2="370.30" y2="370.30" stroke="#777" stroke-width="0.9"/>
<line x1="370.30" y1="370.30" x2="510.00" y2="370.30" stroke="#777" stroke-width="0.9"/>
<line x1="368.20" y1="370.30" x2="370.30" y2="370.30" stroke="#777" stroke-width="0.8"/>
<text x="364.80" y="372.99" font-size="7.5" fill="#444" text-anchor="end">0</text>
<line x1="368.20" y1="342.70" x2="370.30" y2="342.70" stroke="#777" stroke-width="0.8"/>
<text x="364.80" y="345.38" font-size="7.5" fill="#444" text-anchor="end">20</text>
<line x1="368.20" y1="315.10" x2="370.30" y2="315.10" stroke="#777" stroke-width="0.8"/>
<text x="364.80" y="317.79" font-size="7.5" fill="#444" text-anchor="end">40</text>
<line x1="368.20" y1="287.50" x2="370.30" y2="287.50" stroke="#777" stroke-width="0.8"/>
<text x="364.80" y="290.19" font-size="7.5" fill="#444" text-anchor="end">60</text>
<text x="343.11" y="321.90" font-size="7.1" fill="#2a2a2a" text-anchor="middle" transform="rotate(-90 343.11 321.90)" stroke="#2a2a2a" stroke-width="0.15" textLength="103.7" lengthAdjust="spacingAndGlyphs">Survival (% Control, Trypan Blue,</text>
<text x="352.31" y="323.75" font-size="7.1" fill="#2a2a2a" text-anchor="middle" transform="rotate(-90 352.31 323.75)" stroke="#2a2a2a" stroke-width="0.15" textLength="113.7" lengthAdjust="spacingAndGlyphs">200 &#956;M Hydrogen Peroxide x 24 hou</text>
<rect x="402.60" y="295.78" width="27.40" height="74.52" fill="#c4c4c4" stroke="#333" stroke-width="1.1"/>
<line x1="416.30" y1="295.78" x2="416.30" y2="273.70" stroke="#444" stroke-width="0.9"/>
<line x1="413.90" y1="273.70" x2="418.70" y2="273.70" stroke="#444" stroke-width="1.0"/>
<text x="416.50" y="380.41" font-size="7.3" fill="#222" stroke="#222" stroke-width="0.15" text-anchor="middle">CD138-</text>
<text x="416.50" y="388.21" font-size="7.3" fill="#222" stroke="#222" stroke-width="0.15" text-anchor="middle">Non-Myeloma</text>
<rect x="449.50" y="350.98" width="27.40" height="19.32" fill="#c4c4c4" stroke="#333" stroke-width="1.1"/>
<line x1="463.20" y1="350.98" x2="463.20" y2="339.94" stroke="#444" stroke-width="0.9"/>
<line x1="460.80" y1="339.94" x2="465.60" y2="339.94" stroke="#444" stroke-width="1.0"/>
<text x="463.40" y="380.41" font-size="7.3" fill="#222" stroke="#222" stroke-width="0.15" text-anchor="middle">CD138+</text>
<text x="463.40" y="388.21" font-size="7.3" fill="#222" stroke="#222" stroke-width="0.15" text-anchor="middle">Myeloma</text>
<polyline points="415.20,268.90 415.20,264.30 463.00,264.30 463.00,328.70" fill="none" stroke="#1a1a1a" stroke-width="1.4" stroke-linejoin="round"/>
<text x="441.3" y="277.2" font-size="8.6" text-anchor="middle" fill="#1a1a1a" stroke="#1a1a1a" stroke-width="0.2"><tspan font-style="italic">P</tspan>&lt;.05</text>
</svg>
</body></html>
